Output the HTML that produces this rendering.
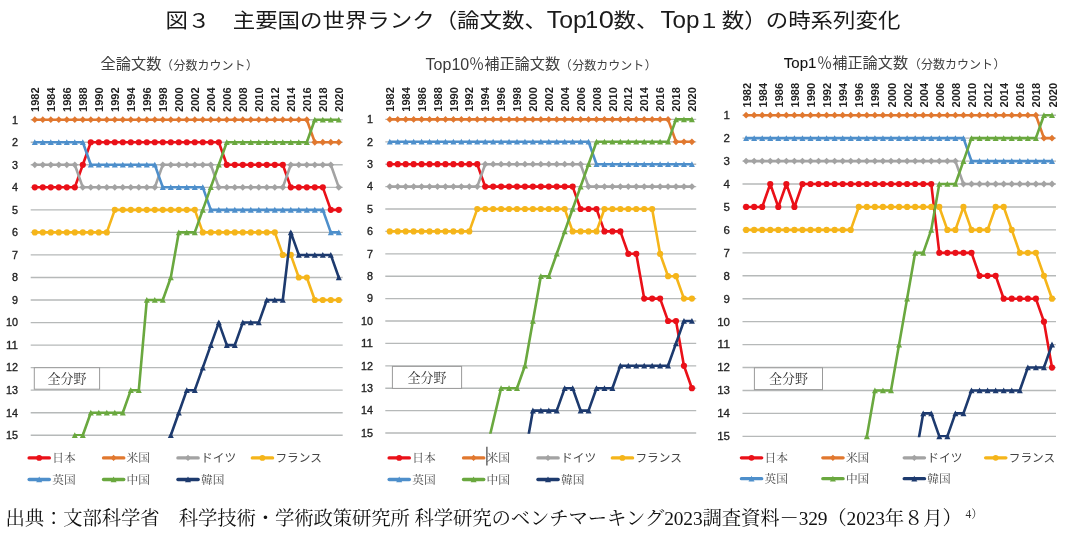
<!DOCTYPE html>
<html lang="ja"><head><meta charset="utf-8"><title>図３ 主要国の世界ランク</title>
<style>html,body{margin:0;padding:0;background:#fff}svg{display:block}</style></head>
<body>
<svg width="1074" height="534" viewBox="0 0 1074 534">
<rect width="1074" height="534" fill="#fff"/>
<text x="165.4" y="28" font-family="Liberation Sans, Noto Sans CJK JP, sans-serif" font-size="22.45" fill="#1a1a1a" transform="translate(0,28.3) scale(1,0.91) translate(0,-28)">図３　主要国の世界ランク（論文数、</text>
<text x="546.8" y="28" font-family="Liberation Sans, Noto Sans CJK JP, sans-serif" font-size="23.2" fill="#1a1a1a" textLength="40" lengthAdjust="spacingAndGlyphs">Top</text>
<text x="591.8" y="28" font-family="Liberation Sans, Noto Sans CJK JP, sans-serif" font-size="23.2" fill="#1a1a1a" text-anchor="middle">1</text>
<text x="598.8" y="28" font-family="Liberation Sans, Noto Sans CJK JP, sans-serif" font-size="23.2" fill="#1a1a1a" textLength="15.2" lengthAdjust="spacingAndGlyphs">0</text>
<text x="613.6" y="28" font-family="Liberation Sans, Noto Sans CJK JP, sans-serif" font-size="22.45" fill="#1a1a1a" transform="translate(0,28.3) scale(1,0.91) translate(0,-28)">数、</text>
<text x="660.4" y="28" font-family="Liberation Sans, Noto Sans CJK JP, sans-serif" font-size="23.2" fill="#1a1a1a" textLength="39" lengthAdjust="spacingAndGlyphs">Top</text>
<text x="709" y="28" font-family="Liberation Sans, Noto Sans CJK JP, sans-serif" font-size="22.45" fill="#1a1a1a" transform="translate(0,28.3) scale(1,0.91) translate(0,-28)" text-anchor="middle">１</text>
<text x="721.8" y="28" font-family="Liberation Sans, Noto Sans CJK JP, sans-serif" font-size="22.45" fill="#1a1a1a" transform="translate(0,28.3) scale(1,0.91) translate(0,-28)">数）</text>
<text x="765.7" y="28" font-family="Liberation Sans, Noto Sans CJK JP, sans-serif" font-size="22.45" fill="#1a1a1a" transform="translate(0,28.3) scale(1,0.91) translate(0,-28)">の時系列変化</text>
<line x1="30.7" x2="342.7" y1="119.70" y2="119.70" stroke="#b6b9b9" stroke-width="1.35"/>
<text x="18" y="123.5" text-anchor="end" font-family="Liberation Sans, sans-serif" font-size="11.8" fill="#222" stroke="#222" stroke-width="0.35" textLength="6.0" lengthAdjust="spacingAndGlyphs">1</text>
<line x1="30.7" x2="342.7" y1="142.24" y2="142.24" stroke="#b6b9b9" stroke-width="1.35"/>
<text x="18" y="146.0" text-anchor="end" font-family="Liberation Sans, sans-serif" font-size="11.8" fill="#222" stroke="#222" stroke-width="0.35" textLength="6.0" lengthAdjust="spacingAndGlyphs">2</text>
<line x1="30.7" x2="342.7" y1="164.78" y2="164.78" stroke="#b6b9b9" stroke-width="1.35"/>
<text x="18" y="168.6" text-anchor="end" font-family="Liberation Sans, sans-serif" font-size="11.8" fill="#222" stroke="#222" stroke-width="0.35" textLength="6.0" lengthAdjust="spacingAndGlyphs">3</text>
<line x1="30.7" x2="342.7" y1="187.32" y2="187.32" stroke="#b6b9b9" stroke-width="1.35"/>
<text x="18" y="191.1" text-anchor="end" font-family="Liberation Sans, sans-serif" font-size="11.8" fill="#222" stroke="#222" stroke-width="0.35" textLength="6.0" lengthAdjust="spacingAndGlyphs">4</text>
<line x1="30.7" x2="342.7" y1="209.86" y2="209.86" stroke="#b6b9b9" stroke-width="1.35"/>
<text x="18" y="213.7" text-anchor="end" font-family="Liberation Sans, sans-serif" font-size="11.8" fill="#222" stroke="#222" stroke-width="0.35" textLength="6.0" lengthAdjust="spacingAndGlyphs">5</text>
<line x1="30.7" x2="342.7" y1="232.40" y2="232.40" stroke="#b6b9b9" stroke-width="1.35"/>
<text x="18" y="236.2" text-anchor="end" font-family="Liberation Sans, sans-serif" font-size="11.8" fill="#222" stroke="#222" stroke-width="0.35" textLength="6.0" lengthAdjust="spacingAndGlyphs">6</text>
<line x1="30.7" x2="342.7" y1="254.94" y2="254.94" stroke="#b6b9b9" stroke-width="1.35"/>
<text x="18" y="258.7" text-anchor="end" font-family="Liberation Sans, sans-serif" font-size="11.8" fill="#222" stroke="#222" stroke-width="0.35" textLength="6.0" lengthAdjust="spacingAndGlyphs">7</text>
<line x1="30.7" x2="342.7" y1="277.48" y2="277.48" stroke="#b6b9b9" stroke-width="1.35"/>
<text x="18" y="281.3" text-anchor="end" font-family="Liberation Sans, sans-serif" font-size="11.8" fill="#222" stroke="#222" stroke-width="0.35" textLength="6.0" lengthAdjust="spacingAndGlyphs">8</text>
<line x1="30.7" x2="342.7" y1="300.02" y2="300.02" stroke="#b6b9b9" stroke-width="1.35"/>
<text x="18" y="303.8" text-anchor="end" font-family="Liberation Sans, sans-serif" font-size="11.8" fill="#222" stroke="#222" stroke-width="0.35" textLength="6.0" lengthAdjust="spacingAndGlyphs">9</text>
<line x1="30.7" x2="342.7" y1="322.56" y2="322.56" stroke="#b6b9b9" stroke-width="1.35"/>
<text x="18" y="326.4" text-anchor="end" font-family="Liberation Sans, sans-serif" font-size="11.8" fill="#222" stroke="#222" stroke-width="0.35" textLength="12.0" lengthAdjust="spacingAndGlyphs">10</text>
<line x1="30.7" x2="342.7" y1="345.10" y2="345.10" stroke="#b6b9b9" stroke-width="1.35"/>
<text x="18" y="348.9" text-anchor="end" font-family="Liberation Sans, sans-serif" font-size="11.8" fill="#222" stroke="#222" stroke-width="0.35" textLength="12.0" lengthAdjust="spacingAndGlyphs">11</text>
<line x1="30.7" x2="342.7" y1="367.64" y2="367.64" stroke="#b6b9b9" stroke-width="1.35"/>
<text x="18" y="371.4" text-anchor="end" font-family="Liberation Sans, sans-serif" font-size="11.8" fill="#222" stroke="#222" stroke-width="0.35" textLength="12.0" lengthAdjust="spacingAndGlyphs">12</text>
<line x1="30.7" x2="342.7" y1="390.18" y2="390.18" stroke="#b6b9b9" stroke-width="1.35"/>
<text x="18" y="394.0" text-anchor="end" font-family="Liberation Sans, sans-serif" font-size="11.8" fill="#222" stroke="#222" stroke-width="0.35" textLength="12.0" lengthAdjust="spacingAndGlyphs">13</text>
<line x1="30.7" x2="342.7" y1="412.72" y2="412.72" stroke="#b6b9b9" stroke-width="1.35"/>
<text x="18" y="416.5" text-anchor="end" font-family="Liberation Sans, sans-serif" font-size="11.8" fill="#222" stroke="#222" stroke-width="0.35" textLength="12.0" lengthAdjust="spacingAndGlyphs">14</text>
<line x1="30.7" x2="342.7" y1="435.26" y2="435.26" stroke="#b6b9b9" stroke-width="1.35"/>
<text x="18" y="439.1" text-anchor="end" font-family="Liberation Sans, sans-serif" font-size="11.8" fill="#222" stroke="#222" stroke-width="0.35" textLength="12.0" lengthAdjust="spacingAndGlyphs">15</text>
<text transform="translate(38.9,112.0) rotate(-90)" font-family="Liberation Sans, sans-serif" font-weight="bold" font-size="10.7" fill="#222" textLength="24.6" lengthAdjust="spacingAndGlyphs">1982</text>
<text transform="translate(54.9,112.0) rotate(-90)" font-family="Liberation Sans, sans-serif" font-weight="bold" font-size="10.7" fill="#222" textLength="24.6" lengthAdjust="spacingAndGlyphs">1984</text>
<text transform="translate(70.9,112.0) rotate(-90)" font-family="Liberation Sans, sans-serif" font-weight="bold" font-size="10.7" fill="#222" textLength="24.6" lengthAdjust="spacingAndGlyphs">1986</text>
<text transform="translate(86.9,112.0) rotate(-90)" font-family="Liberation Sans, sans-serif" font-weight="bold" font-size="10.7" fill="#222" textLength="24.6" lengthAdjust="spacingAndGlyphs">1988</text>
<text transform="translate(102.9,112.0) rotate(-90)" font-family="Liberation Sans, sans-serif" font-weight="bold" font-size="10.7" fill="#222" textLength="24.6" lengthAdjust="spacingAndGlyphs">1990</text>
<text transform="translate(118.9,112.0) rotate(-90)" font-family="Liberation Sans, sans-serif" font-weight="bold" font-size="10.7" fill="#222" textLength="24.6" lengthAdjust="spacingAndGlyphs">1992</text>
<text transform="translate(134.9,112.0) rotate(-90)" font-family="Liberation Sans, sans-serif" font-weight="bold" font-size="10.7" fill="#222" textLength="24.6" lengthAdjust="spacingAndGlyphs">1994</text>
<text transform="translate(150.9,112.0) rotate(-90)" font-family="Liberation Sans, sans-serif" font-weight="bold" font-size="10.7" fill="#222" textLength="24.6" lengthAdjust="spacingAndGlyphs">1996</text>
<text transform="translate(166.9,112.0) rotate(-90)" font-family="Liberation Sans, sans-serif" font-weight="bold" font-size="10.7" fill="#222" textLength="24.6" lengthAdjust="spacingAndGlyphs">1998</text>
<text transform="translate(182.9,112.0) rotate(-90)" font-family="Liberation Sans, sans-serif" font-weight="bold" font-size="10.7" fill="#222" textLength="24.6" lengthAdjust="spacingAndGlyphs">2000</text>
<text transform="translate(198.9,112.0) rotate(-90)" font-family="Liberation Sans, sans-serif" font-weight="bold" font-size="10.7" fill="#222" textLength="24.6" lengthAdjust="spacingAndGlyphs">2002</text>
<text transform="translate(214.9,112.0) rotate(-90)" font-family="Liberation Sans, sans-serif" font-weight="bold" font-size="10.7" fill="#222" textLength="24.6" lengthAdjust="spacingAndGlyphs">2004</text>
<text transform="translate(230.9,112.0) rotate(-90)" font-family="Liberation Sans, sans-serif" font-weight="bold" font-size="10.7" fill="#222" textLength="24.6" lengthAdjust="spacingAndGlyphs">2006</text>
<text transform="translate(246.9,112.0) rotate(-90)" font-family="Liberation Sans, sans-serif" font-weight="bold" font-size="10.7" fill="#222" textLength="24.6" lengthAdjust="spacingAndGlyphs">2008</text>
<text transform="translate(262.9,112.0) rotate(-90)" font-family="Liberation Sans, sans-serif" font-weight="bold" font-size="10.7" fill="#222" textLength="24.6" lengthAdjust="spacingAndGlyphs">2010</text>
<text transform="translate(278.9,112.0) rotate(-90)" font-family="Liberation Sans, sans-serif" font-weight="bold" font-size="10.7" fill="#222" textLength="24.6" lengthAdjust="spacingAndGlyphs">2012</text>
<text transform="translate(294.9,112.0) rotate(-90)" font-family="Liberation Sans, sans-serif" font-weight="bold" font-size="10.7" fill="#222" textLength="24.6" lengthAdjust="spacingAndGlyphs">2014</text>
<text transform="translate(310.9,112.0) rotate(-90)" font-family="Liberation Sans, sans-serif" font-weight="bold" font-size="10.7" fill="#222" textLength="24.6" lengthAdjust="spacingAndGlyphs">2016</text>
<text transform="translate(326.9,112.0) rotate(-90)" font-family="Liberation Sans, sans-serif" font-weight="bold" font-size="10.7" fill="#222" textLength="24.6" lengthAdjust="spacingAndGlyphs">2018</text>
<text transform="translate(342.9,112.0) rotate(-90)" font-family="Liberation Sans, sans-serif" font-weight="bold" font-size="10.7" fill="#222" textLength="24.6" lengthAdjust="spacingAndGlyphs">2020</text>
<clipPath id="cp0"><rect x="27.7" y="113.7" width="318.0" height="322.4"/></clipPath>
<g>
<path d="M34.80 187.32L42.80 187.32L50.80 187.32L58.80 187.32L66.80 187.32L74.80 187.32L82.80 164.78L90.80 142.24L98.80 142.24L106.80 142.24L114.80 142.24L122.80 142.24L130.80 142.24L138.80 142.24L146.80 142.24L154.80 142.24L162.80 142.24L170.80 142.24L178.80 142.24L186.80 142.24L194.80 142.24L202.80 142.24L210.80 142.24L218.80 142.24L226.80 164.78L234.80 164.78L242.80 164.78L250.80 164.78L258.80 164.78L266.80 164.78L274.80 164.78L282.80 164.78L290.80 187.32L298.80 187.32L306.80 187.32L314.80 187.32L322.80 187.32L330.80 209.86L338.80 209.86" fill="none" stroke="#ea1018" stroke-width="2.6" stroke-linejoin="round" stroke-linecap="round" clip-path="url(#cp0)"/>
<circle cx="34.80" cy="187.32" r="3.10" fill="#ea1018"/>
<circle cx="42.80" cy="187.32" r="3.10" fill="#ea1018"/>
<circle cx="50.80" cy="187.32" r="3.10" fill="#ea1018"/>
<circle cx="58.80" cy="187.32" r="3.10" fill="#ea1018"/>
<circle cx="66.80" cy="187.32" r="3.10" fill="#ea1018"/>
<circle cx="74.80" cy="187.32" r="3.10" fill="#ea1018"/>
<circle cx="82.80" cy="164.78" r="3.10" fill="#ea1018"/>
<circle cx="90.80" cy="142.24" r="3.10" fill="#ea1018"/>
<circle cx="98.80" cy="142.24" r="3.10" fill="#ea1018"/>
<circle cx="106.80" cy="142.24" r="3.10" fill="#ea1018"/>
<circle cx="114.80" cy="142.24" r="3.10" fill="#ea1018"/>
<circle cx="122.80" cy="142.24" r="3.10" fill="#ea1018"/>
<circle cx="130.80" cy="142.24" r="3.10" fill="#ea1018"/>
<circle cx="138.80" cy="142.24" r="3.10" fill="#ea1018"/>
<circle cx="146.80" cy="142.24" r="3.10" fill="#ea1018"/>
<circle cx="154.80" cy="142.24" r="3.10" fill="#ea1018"/>
<circle cx="162.80" cy="142.24" r="3.10" fill="#ea1018"/>
<circle cx="170.80" cy="142.24" r="3.10" fill="#ea1018"/>
<circle cx="178.80" cy="142.24" r="3.10" fill="#ea1018"/>
<circle cx="186.80" cy="142.24" r="3.10" fill="#ea1018"/>
<circle cx="194.80" cy="142.24" r="3.10" fill="#ea1018"/>
<circle cx="202.80" cy="142.24" r="3.10" fill="#ea1018"/>
<circle cx="210.80" cy="142.24" r="3.10" fill="#ea1018"/>
<circle cx="218.80" cy="142.24" r="3.10" fill="#ea1018"/>
<circle cx="226.80" cy="164.78" r="3.10" fill="#ea1018"/>
<circle cx="234.80" cy="164.78" r="3.10" fill="#ea1018"/>
<circle cx="242.80" cy="164.78" r="3.10" fill="#ea1018"/>
<circle cx="250.80" cy="164.78" r="3.10" fill="#ea1018"/>
<circle cx="258.80" cy="164.78" r="3.10" fill="#ea1018"/>
<circle cx="266.80" cy="164.78" r="3.10" fill="#ea1018"/>
<circle cx="274.80" cy="164.78" r="3.10" fill="#ea1018"/>
<circle cx="282.80" cy="164.78" r="3.10" fill="#ea1018"/>
<circle cx="290.80" cy="187.32" r="3.10" fill="#ea1018"/>
<circle cx="298.80" cy="187.32" r="3.10" fill="#ea1018"/>
<circle cx="306.80" cy="187.32" r="3.10" fill="#ea1018"/>
<circle cx="314.80" cy="187.32" r="3.10" fill="#ea1018"/>
<circle cx="322.80" cy="187.32" r="3.10" fill="#ea1018"/>
<circle cx="330.80" cy="209.86" r="3.10" fill="#ea1018"/>
<circle cx="338.80" cy="209.86" r="3.10" fill="#ea1018"/>
<path d="M34.80 119.70L42.80 119.70L50.80 119.70L58.80 119.70L66.80 119.70L74.80 119.70L82.80 119.70L90.80 119.70L98.80 119.70L106.80 119.70L114.80 119.70L122.80 119.70L130.80 119.70L138.80 119.70L146.80 119.70L154.80 119.70L162.80 119.70L170.80 119.70L178.80 119.70L186.80 119.70L194.80 119.70L202.80 119.70L210.80 119.70L218.80 119.70L226.80 119.70L234.80 119.70L242.80 119.70L250.80 119.70L258.80 119.70L266.80 119.70L274.80 119.70L282.80 119.70L290.80 119.70L298.80 119.70L306.80 119.70L314.80 142.24L322.80 142.24L330.80 142.24L338.80 142.24" fill="none" stroke="#e1782f" stroke-width="2.6" stroke-linejoin="round" stroke-linecap="round" clip-path="url(#cp0)"/>
<path d="M31.40 119.70L34.80 116.30L38.20 119.70L34.80 123.10Z" fill="#e1782f"/>
<path d="M39.40 119.70L42.80 116.30L46.20 119.70L42.80 123.10Z" fill="#e1782f"/>
<path d="M47.40 119.70L50.80 116.30L54.20 119.70L50.80 123.10Z" fill="#e1782f"/>
<path d="M55.40 119.70L58.80 116.30L62.20 119.70L58.80 123.10Z" fill="#e1782f"/>
<path d="M63.40 119.70L66.80 116.30L70.20 119.70L66.80 123.10Z" fill="#e1782f"/>
<path d="M71.40 119.70L74.80 116.30L78.20 119.70L74.80 123.10Z" fill="#e1782f"/>
<path d="M79.40 119.70L82.80 116.30L86.20 119.70L82.80 123.10Z" fill="#e1782f"/>
<path d="M87.40 119.70L90.80 116.30L94.20 119.70L90.80 123.10Z" fill="#e1782f"/>
<path d="M95.40 119.70L98.80 116.30L102.20 119.70L98.80 123.10Z" fill="#e1782f"/>
<path d="M103.40 119.70L106.80 116.30L110.20 119.70L106.80 123.10Z" fill="#e1782f"/>
<path d="M111.40 119.70L114.80 116.30L118.20 119.70L114.80 123.10Z" fill="#e1782f"/>
<path d="M119.40 119.70L122.80 116.30L126.20 119.70L122.80 123.10Z" fill="#e1782f"/>
<path d="M127.40 119.70L130.80 116.30L134.20 119.70L130.80 123.10Z" fill="#e1782f"/>
<path d="M135.40 119.70L138.80 116.30L142.20 119.70L138.80 123.10Z" fill="#e1782f"/>
<path d="M143.40 119.70L146.80 116.30L150.20 119.70L146.80 123.10Z" fill="#e1782f"/>
<path d="M151.40 119.70L154.80 116.30L158.20 119.70L154.80 123.10Z" fill="#e1782f"/>
<path d="M159.40 119.70L162.80 116.30L166.20 119.70L162.80 123.10Z" fill="#e1782f"/>
<path d="M167.40 119.70L170.80 116.30L174.20 119.70L170.80 123.10Z" fill="#e1782f"/>
<path d="M175.40 119.70L178.80 116.30L182.20 119.70L178.80 123.10Z" fill="#e1782f"/>
<path d="M183.40 119.70L186.80 116.30L190.20 119.70L186.80 123.10Z" fill="#e1782f"/>
<path d="M191.40 119.70L194.80 116.30L198.20 119.70L194.80 123.10Z" fill="#e1782f"/>
<path d="M199.40 119.70L202.80 116.30L206.20 119.70L202.80 123.10Z" fill="#e1782f"/>
<path d="M207.40 119.70L210.80 116.30L214.20 119.70L210.80 123.10Z" fill="#e1782f"/>
<path d="M215.40 119.70L218.80 116.30L222.20 119.70L218.80 123.10Z" fill="#e1782f"/>
<path d="M223.40 119.70L226.80 116.30L230.20 119.70L226.80 123.10Z" fill="#e1782f"/>
<path d="M231.40 119.70L234.80 116.30L238.20 119.70L234.80 123.10Z" fill="#e1782f"/>
<path d="M239.40 119.70L242.80 116.30L246.20 119.70L242.80 123.10Z" fill="#e1782f"/>
<path d="M247.40 119.70L250.80 116.30L254.20 119.70L250.80 123.10Z" fill="#e1782f"/>
<path d="M255.40 119.70L258.80 116.30L262.20 119.70L258.80 123.10Z" fill="#e1782f"/>
<path d="M263.40 119.70L266.80 116.30L270.20 119.70L266.80 123.10Z" fill="#e1782f"/>
<path d="M271.40 119.70L274.80 116.30L278.20 119.70L274.80 123.10Z" fill="#e1782f"/>
<path d="M279.40 119.70L282.80 116.30L286.20 119.70L282.80 123.10Z" fill="#e1782f"/>
<path d="M287.40 119.70L290.80 116.30L294.20 119.70L290.80 123.10Z" fill="#e1782f"/>
<path d="M295.40 119.70L298.80 116.30L302.20 119.70L298.80 123.10Z" fill="#e1782f"/>
<path d="M303.40 119.70L306.80 116.30L310.20 119.70L306.80 123.10Z" fill="#e1782f"/>
<path d="M311.40 142.24L314.80 138.84L318.20 142.24L314.80 145.64Z" fill="#e1782f"/>
<path d="M319.40 142.24L322.80 138.84L326.20 142.24L322.80 145.64Z" fill="#e1782f"/>
<path d="M327.40 142.24L330.80 138.84L334.20 142.24L330.80 145.64Z" fill="#e1782f"/>
<path d="M335.40 142.24L338.80 138.84L342.20 142.24L338.80 145.64Z" fill="#e1782f"/>
<path d="M34.80 164.78L42.80 164.78L50.80 164.78L58.80 164.78L66.80 164.78L74.80 164.78L82.80 187.32L90.80 187.32L98.80 187.32L106.80 187.32L114.80 187.32L122.80 187.32L130.80 187.32L138.80 187.32L146.80 187.32L154.80 187.32L162.80 164.78L170.80 164.78L178.80 164.78L186.80 164.78L194.80 164.78L202.80 164.78L210.80 164.78L218.80 187.32L226.80 187.32L234.80 187.32L242.80 187.32L250.80 187.32L258.80 187.32L266.80 187.32L274.80 187.32L282.80 187.32L290.80 164.78L298.80 164.78L306.80 164.78L314.80 164.78L322.80 164.78L330.80 164.78L338.80 187.32" fill="none" stroke="#a3a3a3" stroke-width="2.6" stroke-linejoin="round" stroke-linecap="round" clip-path="url(#cp0)"/>
<path d="M31.40 164.78L34.80 161.38L38.20 164.78L34.80 168.18Z" fill="#a3a3a3"/>
<path d="M39.40 164.78L42.80 161.38L46.20 164.78L42.80 168.18Z" fill="#a3a3a3"/>
<path d="M47.40 164.78L50.80 161.38L54.20 164.78L50.80 168.18Z" fill="#a3a3a3"/>
<path d="M55.40 164.78L58.80 161.38L62.20 164.78L58.80 168.18Z" fill="#a3a3a3"/>
<path d="M63.40 164.78L66.80 161.38L70.20 164.78L66.80 168.18Z" fill="#a3a3a3"/>
<path d="M71.40 164.78L74.80 161.38L78.20 164.78L74.80 168.18Z" fill="#a3a3a3"/>
<path d="M79.40 187.32L82.80 183.92L86.20 187.32L82.80 190.72Z" fill="#a3a3a3"/>
<path d="M87.40 187.32L90.80 183.92L94.20 187.32L90.80 190.72Z" fill="#a3a3a3"/>
<path d="M95.40 187.32L98.80 183.92L102.20 187.32L98.80 190.72Z" fill="#a3a3a3"/>
<path d="M103.40 187.32L106.80 183.92L110.20 187.32L106.80 190.72Z" fill="#a3a3a3"/>
<path d="M111.40 187.32L114.80 183.92L118.20 187.32L114.80 190.72Z" fill="#a3a3a3"/>
<path d="M119.40 187.32L122.80 183.92L126.20 187.32L122.80 190.72Z" fill="#a3a3a3"/>
<path d="M127.40 187.32L130.80 183.92L134.20 187.32L130.80 190.72Z" fill="#a3a3a3"/>
<path d="M135.40 187.32L138.80 183.92L142.20 187.32L138.80 190.72Z" fill="#a3a3a3"/>
<path d="M143.40 187.32L146.80 183.92L150.20 187.32L146.80 190.72Z" fill="#a3a3a3"/>
<path d="M151.40 187.32L154.80 183.92L158.20 187.32L154.80 190.72Z" fill="#a3a3a3"/>
<path d="M159.40 164.78L162.80 161.38L166.20 164.78L162.80 168.18Z" fill="#a3a3a3"/>
<path d="M167.40 164.78L170.80 161.38L174.20 164.78L170.80 168.18Z" fill="#a3a3a3"/>
<path d="M175.40 164.78L178.80 161.38L182.20 164.78L178.80 168.18Z" fill="#a3a3a3"/>
<path d="M183.40 164.78L186.80 161.38L190.20 164.78L186.80 168.18Z" fill="#a3a3a3"/>
<path d="M191.40 164.78L194.80 161.38L198.20 164.78L194.80 168.18Z" fill="#a3a3a3"/>
<path d="M199.40 164.78L202.80 161.38L206.20 164.78L202.80 168.18Z" fill="#a3a3a3"/>
<path d="M207.40 164.78L210.80 161.38L214.20 164.78L210.80 168.18Z" fill="#a3a3a3"/>
<path d="M215.40 187.32L218.80 183.92L222.20 187.32L218.80 190.72Z" fill="#a3a3a3"/>
<path d="M223.40 187.32L226.80 183.92L230.20 187.32L226.80 190.72Z" fill="#a3a3a3"/>
<path d="M231.40 187.32L234.80 183.92L238.20 187.32L234.80 190.72Z" fill="#a3a3a3"/>
<path d="M239.40 187.32L242.80 183.92L246.20 187.32L242.80 190.72Z" fill="#a3a3a3"/>
<path d="M247.40 187.32L250.80 183.92L254.20 187.32L250.80 190.72Z" fill="#a3a3a3"/>
<path d="M255.40 187.32L258.80 183.92L262.20 187.32L258.80 190.72Z" fill="#a3a3a3"/>
<path d="M263.40 187.32L266.80 183.92L270.20 187.32L266.80 190.72Z" fill="#a3a3a3"/>
<path d="M271.40 187.32L274.80 183.92L278.20 187.32L274.80 190.72Z" fill="#a3a3a3"/>
<path d="M279.40 187.32L282.80 183.92L286.20 187.32L282.80 190.72Z" fill="#a3a3a3"/>
<path d="M287.40 164.78L290.80 161.38L294.20 164.78L290.80 168.18Z" fill="#a3a3a3"/>
<path d="M295.40 164.78L298.80 161.38L302.20 164.78L298.80 168.18Z" fill="#a3a3a3"/>
<path d="M303.40 164.78L306.80 161.38L310.20 164.78L306.80 168.18Z" fill="#a3a3a3"/>
<path d="M311.40 164.78L314.80 161.38L318.20 164.78L314.80 168.18Z" fill="#a3a3a3"/>
<path d="M319.40 164.78L322.80 161.38L326.20 164.78L322.80 168.18Z" fill="#a3a3a3"/>
<path d="M327.40 164.78L330.80 161.38L334.20 164.78L330.80 168.18Z" fill="#a3a3a3"/>
<path d="M335.40 187.32L338.80 183.92L342.20 187.32L338.80 190.72Z" fill="#a3a3a3"/>
<path d="M34.80 232.40L42.80 232.40L50.80 232.40L58.80 232.40L66.80 232.40L74.80 232.40L82.80 232.40L90.80 232.40L98.80 232.40L106.80 232.40L114.80 209.86L122.80 209.86L130.80 209.86L138.80 209.86L146.80 209.86L154.80 209.86L162.80 209.86L170.80 209.86L178.80 209.86L186.80 209.86L194.80 209.86L202.80 232.40L210.80 232.40L218.80 232.40L226.80 232.40L234.80 232.40L242.80 232.40L250.80 232.40L258.80 232.40L266.80 232.40L274.80 232.40L282.80 254.94L290.80 254.94L298.80 277.48L306.80 277.48L314.80 300.02L322.80 300.02L330.80 300.02L338.80 300.02" fill="none" stroke="#f5b51a" stroke-width="2.6" stroke-linejoin="round" stroke-linecap="round" clip-path="url(#cp0)"/>
<circle cx="34.80" cy="232.40" r="3.10" fill="#f5b51a"/>
<circle cx="42.80" cy="232.40" r="3.10" fill="#f5b51a"/>
<circle cx="50.80" cy="232.40" r="3.10" fill="#f5b51a"/>
<circle cx="58.80" cy="232.40" r="3.10" fill="#f5b51a"/>
<circle cx="66.80" cy="232.40" r="3.10" fill="#f5b51a"/>
<circle cx="74.80" cy="232.40" r="3.10" fill="#f5b51a"/>
<circle cx="82.80" cy="232.40" r="3.10" fill="#f5b51a"/>
<circle cx="90.80" cy="232.40" r="3.10" fill="#f5b51a"/>
<circle cx="98.80" cy="232.40" r="3.10" fill="#f5b51a"/>
<circle cx="106.80" cy="232.40" r="3.10" fill="#f5b51a"/>
<circle cx="114.80" cy="209.86" r="3.10" fill="#f5b51a"/>
<circle cx="122.80" cy="209.86" r="3.10" fill="#f5b51a"/>
<circle cx="130.80" cy="209.86" r="3.10" fill="#f5b51a"/>
<circle cx="138.80" cy="209.86" r="3.10" fill="#f5b51a"/>
<circle cx="146.80" cy="209.86" r="3.10" fill="#f5b51a"/>
<circle cx="154.80" cy="209.86" r="3.10" fill="#f5b51a"/>
<circle cx="162.80" cy="209.86" r="3.10" fill="#f5b51a"/>
<circle cx="170.80" cy="209.86" r="3.10" fill="#f5b51a"/>
<circle cx="178.80" cy="209.86" r="3.10" fill="#f5b51a"/>
<circle cx="186.80" cy="209.86" r="3.10" fill="#f5b51a"/>
<circle cx="194.80" cy="209.86" r="3.10" fill="#f5b51a"/>
<circle cx="202.80" cy="232.40" r="3.10" fill="#f5b51a"/>
<circle cx="210.80" cy="232.40" r="3.10" fill="#f5b51a"/>
<circle cx="218.80" cy="232.40" r="3.10" fill="#f5b51a"/>
<circle cx="226.80" cy="232.40" r="3.10" fill="#f5b51a"/>
<circle cx="234.80" cy="232.40" r="3.10" fill="#f5b51a"/>
<circle cx="242.80" cy="232.40" r="3.10" fill="#f5b51a"/>
<circle cx="250.80" cy="232.40" r="3.10" fill="#f5b51a"/>
<circle cx="258.80" cy="232.40" r="3.10" fill="#f5b51a"/>
<circle cx="266.80" cy="232.40" r="3.10" fill="#f5b51a"/>
<circle cx="274.80" cy="232.40" r="3.10" fill="#f5b51a"/>
<circle cx="282.80" cy="254.94" r="3.10" fill="#f5b51a"/>
<circle cx="290.80" cy="254.94" r="3.10" fill="#f5b51a"/>
<circle cx="298.80" cy="277.48" r="3.10" fill="#f5b51a"/>
<circle cx="306.80" cy="277.48" r="3.10" fill="#f5b51a"/>
<circle cx="314.80" cy="300.02" r="3.10" fill="#f5b51a"/>
<circle cx="322.80" cy="300.02" r="3.10" fill="#f5b51a"/>
<circle cx="330.80" cy="300.02" r="3.10" fill="#f5b51a"/>
<circle cx="338.80" cy="300.02" r="3.10" fill="#f5b51a"/>
<path d="M34.80 142.24L42.80 142.24L50.80 142.24L58.80 142.24L66.80 142.24L74.80 142.24L82.80 142.24L90.80 164.78L98.80 164.78L106.80 164.78L114.80 164.78L122.80 164.78L130.80 164.78L138.80 164.78L146.80 164.78L154.80 164.78L162.80 187.32L170.80 187.32L178.80 187.32L186.80 187.32L194.80 187.32L202.80 187.32L210.80 209.86L218.80 209.86L226.80 209.86L234.80 209.86L242.80 209.86L250.80 209.86L258.80 209.86L266.80 209.86L274.80 209.86L282.80 209.86L290.80 209.86L298.80 209.86L306.80 209.86L314.80 209.86L322.80 209.86L330.80 232.40L338.80 232.40" fill="none" stroke="#4e8fcb" stroke-width="2.6" stroke-linejoin="round" stroke-linecap="round" clip-path="url(#cp0)"/>
<path d="M31.80 145.04L34.80 139.24L37.80 145.04Z" fill="#4e8fcb"/>
<path d="M39.80 145.04L42.80 139.24L45.80 145.04Z" fill="#4e8fcb"/>
<path d="M47.80 145.04L50.80 139.24L53.80 145.04Z" fill="#4e8fcb"/>
<path d="M55.80 145.04L58.80 139.24L61.80 145.04Z" fill="#4e8fcb"/>
<path d="M63.80 145.04L66.80 139.24L69.80 145.04Z" fill="#4e8fcb"/>
<path d="M71.80 145.04L74.80 139.24L77.80 145.04Z" fill="#4e8fcb"/>
<path d="M79.80 145.04L82.80 139.24L85.80 145.04Z" fill="#4e8fcb"/>
<path d="M87.80 167.58L90.80 161.78L93.80 167.58Z" fill="#4e8fcb"/>
<path d="M95.80 167.58L98.80 161.78L101.80 167.58Z" fill="#4e8fcb"/>
<path d="M103.80 167.58L106.80 161.78L109.80 167.58Z" fill="#4e8fcb"/>
<path d="M111.80 167.58L114.80 161.78L117.80 167.58Z" fill="#4e8fcb"/>
<path d="M119.80 167.58L122.80 161.78L125.80 167.58Z" fill="#4e8fcb"/>
<path d="M127.80 167.58L130.80 161.78L133.80 167.58Z" fill="#4e8fcb"/>
<path d="M135.80 167.58L138.80 161.78L141.80 167.58Z" fill="#4e8fcb"/>
<path d="M143.80 167.58L146.80 161.78L149.80 167.58Z" fill="#4e8fcb"/>
<path d="M151.80 167.58L154.80 161.78L157.80 167.58Z" fill="#4e8fcb"/>
<path d="M159.80 190.12L162.80 184.32L165.80 190.12Z" fill="#4e8fcb"/>
<path d="M167.80 190.12L170.80 184.32L173.80 190.12Z" fill="#4e8fcb"/>
<path d="M175.80 190.12L178.80 184.32L181.80 190.12Z" fill="#4e8fcb"/>
<path d="M183.80 190.12L186.80 184.32L189.80 190.12Z" fill="#4e8fcb"/>
<path d="M191.80 190.12L194.80 184.32L197.80 190.12Z" fill="#4e8fcb"/>
<path d="M199.80 190.12L202.80 184.32L205.80 190.12Z" fill="#4e8fcb"/>
<path d="M207.80 212.66L210.80 206.86L213.80 212.66Z" fill="#4e8fcb"/>
<path d="M215.80 212.66L218.80 206.86L221.80 212.66Z" fill="#4e8fcb"/>
<path d="M223.80 212.66L226.80 206.86L229.80 212.66Z" fill="#4e8fcb"/>
<path d="M231.80 212.66L234.80 206.86L237.80 212.66Z" fill="#4e8fcb"/>
<path d="M239.80 212.66L242.80 206.86L245.80 212.66Z" fill="#4e8fcb"/>
<path d="M247.80 212.66L250.80 206.86L253.80 212.66Z" fill="#4e8fcb"/>
<path d="M255.80 212.66L258.80 206.86L261.80 212.66Z" fill="#4e8fcb"/>
<path d="M263.80 212.66L266.80 206.86L269.80 212.66Z" fill="#4e8fcb"/>
<path d="M271.80 212.66L274.80 206.86L277.80 212.66Z" fill="#4e8fcb"/>
<path d="M279.80 212.66L282.80 206.86L285.80 212.66Z" fill="#4e8fcb"/>
<path d="M287.80 212.66L290.80 206.86L293.80 212.66Z" fill="#4e8fcb"/>
<path d="M295.80 212.66L298.80 206.86L301.80 212.66Z" fill="#4e8fcb"/>
<path d="M303.80 212.66L306.80 206.86L309.80 212.66Z" fill="#4e8fcb"/>
<path d="M311.80 212.66L314.80 206.86L317.80 212.66Z" fill="#4e8fcb"/>
<path d="M319.80 212.66L322.80 206.86L325.80 212.66Z" fill="#4e8fcb"/>
<path d="M327.80 235.20L330.80 229.40L333.80 235.20Z" fill="#4e8fcb"/>
<path d="M335.80 235.20L338.80 229.40L341.80 235.20Z" fill="#4e8fcb"/>
<path d="M74.80 435.26L82.80 435.26L90.80 412.72L98.80 412.72L106.80 412.72L114.80 412.72L122.80 412.72L130.80 390.18L138.80 390.18L146.80 300.02L154.80 300.02L162.80 300.02L170.80 277.48L178.80 232.40L186.80 232.40L194.80 232.40L202.80 209.86L210.80 187.32L218.80 164.78L226.80 142.24L234.80 142.24L242.80 142.24L250.80 142.24L258.80 142.24L266.80 142.24L274.80 142.24L282.80 142.24L290.80 142.24L298.80 142.24L306.80 142.24L314.80 119.70L322.80 119.70L330.80 119.70L338.80 119.70" fill="none" stroke="#6aa83f" stroke-width="2.6" stroke-linejoin="round" stroke-linecap="round" clip-path="url(#cp0)"/>
<path d="M71.80 438.06L74.80 432.26L77.80 438.06Z" fill="#6aa83f"/>
<path d="M79.80 438.06L82.80 432.26L85.80 438.06Z" fill="#6aa83f"/>
<path d="M87.80 415.52L90.80 409.72L93.80 415.52Z" fill="#6aa83f"/>
<path d="M95.80 415.52L98.80 409.72L101.80 415.52Z" fill="#6aa83f"/>
<path d="M103.80 415.52L106.80 409.72L109.80 415.52Z" fill="#6aa83f"/>
<path d="M111.80 415.52L114.80 409.72L117.80 415.52Z" fill="#6aa83f"/>
<path d="M119.80 415.52L122.80 409.72L125.80 415.52Z" fill="#6aa83f"/>
<path d="M127.80 392.98L130.80 387.18L133.80 392.98Z" fill="#6aa83f"/>
<path d="M135.80 392.98L138.80 387.18L141.80 392.98Z" fill="#6aa83f"/>
<path d="M143.80 302.82L146.80 297.02L149.80 302.82Z" fill="#6aa83f"/>
<path d="M151.80 302.82L154.80 297.02L157.80 302.82Z" fill="#6aa83f"/>
<path d="M159.80 302.82L162.80 297.02L165.80 302.82Z" fill="#6aa83f"/>
<path d="M167.80 280.28L170.80 274.48L173.80 280.28Z" fill="#6aa83f"/>
<path d="M175.80 235.20L178.80 229.40L181.80 235.20Z" fill="#6aa83f"/>
<path d="M183.80 235.20L186.80 229.40L189.80 235.20Z" fill="#6aa83f"/>
<path d="M191.80 235.20L194.80 229.40L197.80 235.20Z" fill="#6aa83f"/>
<path d="M199.80 212.66L202.80 206.86L205.80 212.66Z" fill="#6aa83f"/>
<path d="M207.80 190.12L210.80 184.32L213.80 190.12Z" fill="#6aa83f"/>
<path d="M215.80 167.58L218.80 161.78L221.80 167.58Z" fill="#6aa83f"/>
<path d="M223.80 145.04L226.80 139.24L229.80 145.04Z" fill="#6aa83f"/>
<path d="M231.80 145.04L234.80 139.24L237.80 145.04Z" fill="#6aa83f"/>
<path d="M239.80 145.04L242.80 139.24L245.80 145.04Z" fill="#6aa83f"/>
<path d="M247.80 145.04L250.80 139.24L253.80 145.04Z" fill="#6aa83f"/>
<path d="M255.80 145.04L258.80 139.24L261.80 145.04Z" fill="#6aa83f"/>
<path d="M263.80 145.04L266.80 139.24L269.80 145.04Z" fill="#6aa83f"/>
<path d="M271.80 145.04L274.80 139.24L277.80 145.04Z" fill="#6aa83f"/>
<path d="M279.80 145.04L282.80 139.24L285.80 145.04Z" fill="#6aa83f"/>
<path d="M287.80 145.04L290.80 139.24L293.80 145.04Z" fill="#6aa83f"/>
<path d="M295.80 145.04L298.80 139.24L301.80 145.04Z" fill="#6aa83f"/>
<path d="M303.80 145.04L306.80 139.24L309.80 145.04Z" fill="#6aa83f"/>
<path d="M311.80 122.50L314.80 116.70L317.80 122.50Z" fill="#6aa83f"/>
<path d="M319.80 122.50L322.80 116.70L325.80 122.50Z" fill="#6aa83f"/>
<path d="M327.80 122.50L330.80 116.70L333.80 122.50Z" fill="#6aa83f"/>
<path d="M335.80 122.50L338.80 116.70L341.80 122.50Z" fill="#6aa83f"/>
<path d="M170.80 435.26L178.80 412.72L186.80 390.18L194.80 390.18L202.80 367.64L210.80 345.10L218.80 322.56L226.80 345.10L234.80 345.10L242.80 322.56L250.80 322.56L258.80 322.56L266.80 300.02L274.80 300.02L282.80 300.02L290.80 232.40L298.80 254.94L306.80 254.94L314.80 254.94L322.80 254.94L330.80 254.94L338.80 277.48" fill="none" stroke="#1d3a6e" stroke-width="2.6" stroke-linejoin="round" stroke-linecap="round" clip-path="url(#cp0)"/>
<path d="M167.80 438.06L170.80 432.26L173.80 438.06Z" fill="#1d3a6e"/>
<path d="M175.80 415.52L178.80 409.72L181.80 415.52Z" fill="#1d3a6e"/>
<path d="M183.80 392.98L186.80 387.18L189.80 392.98Z" fill="#1d3a6e"/>
<path d="M191.80 392.98L194.80 387.18L197.80 392.98Z" fill="#1d3a6e"/>
<path d="M199.80 370.44L202.80 364.64L205.80 370.44Z" fill="#1d3a6e"/>
<path d="M207.80 347.90L210.80 342.10L213.80 347.90Z" fill="#1d3a6e"/>
<path d="M215.80 325.36L218.80 319.56L221.80 325.36Z" fill="#1d3a6e"/>
<path d="M223.80 347.90L226.80 342.10L229.80 347.90Z" fill="#1d3a6e"/>
<path d="M231.80 347.90L234.80 342.10L237.80 347.90Z" fill="#1d3a6e"/>
<path d="M239.80 325.36L242.80 319.56L245.80 325.36Z" fill="#1d3a6e"/>
<path d="M247.80 325.36L250.80 319.56L253.80 325.36Z" fill="#1d3a6e"/>
<path d="M255.80 325.36L258.80 319.56L261.80 325.36Z" fill="#1d3a6e"/>
<path d="M263.80 302.82L266.80 297.02L269.80 302.82Z" fill="#1d3a6e"/>
<path d="M271.80 302.82L274.80 297.02L277.80 302.82Z" fill="#1d3a6e"/>
<path d="M279.80 302.82L282.80 297.02L285.80 302.82Z" fill="#1d3a6e"/>
<path d="M287.80 235.20L290.80 229.40L293.80 235.20Z" fill="#1d3a6e"/>
<path d="M295.80 257.74L298.80 251.94L301.80 257.74Z" fill="#1d3a6e"/>
<path d="M303.80 257.74L306.80 251.94L309.80 257.74Z" fill="#1d3a6e"/>
<path d="M311.80 257.74L314.80 251.94L317.80 257.74Z" fill="#1d3a6e"/>
<path d="M319.80 257.74L322.80 251.94L325.80 257.74Z" fill="#1d3a6e"/>
<path d="M327.80 257.74L330.80 251.94L333.80 257.74Z" fill="#1d3a6e"/>
<path d="M335.80 280.28L338.80 274.48L341.80 280.28Z" fill="#1d3a6e"/>
</g>
<text x="100.6" y="69.3" font-family="Liberation Sans, Noto Sans CJK JP, sans-serif" font-size="15.2" fill="#404040">全論文数</text>
<text x="173.0" y="69.6" font-family="Liberation Sans, Noto Sans CJK JP, sans-serif" font-size="12" fill="#404040" text-anchor="end">（</text>
<text x="173.4" y="69.6" font-family="Liberation Sans, Noto Sans CJK JP, sans-serif" font-size="12" fill="#404040">分数カウント</text>
<text x="245.9" y="69.6" font-family="Liberation Sans, Noto Sans CJK JP, sans-serif" font-size="12" fill="#404040">）</text>
<rect x="34.3" y="367.7" width="65.3" height="21.5" fill="#fff" stroke="#9a9a9a" stroke-width="1"/>
<text x="66.9" y="383.3" text-anchor="middle" font-family="Liberation Serif, Noto Serif CJK SC, serif" font-size="13" fill="#333">全分野</text>
<line x1="29.1" x2="49.4" y1="457.9" y2="457.9" stroke="#ea1018" stroke-width="3.3" stroke-linecap="round"/>
<circle cx="39.20" cy="457.90" r="2.85" fill="#ea1018"/>
<text x="52.2" y="462.2" font-family="Liberation Serif, Noto Serif CJK SC, serif" font-size="11.7" fill="#444">日本</text>
<line x1="103.5" x2="123.8" y1="457.9" y2="457.9" stroke="#e1782f" stroke-width="3.3" stroke-linecap="round"/>
<path d="M110.47 457.90L113.60 454.77L116.73 457.90L113.60 461.03Z" fill="#e1782f"/>
<text x="126.6" y="462.2" font-family="Liberation Serif, Noto Serif CJK SC, serif" font-size="11.7" fill="#444">米国</text>
<line x1="177.9" x2="198.2" y1="457.9" y2="457.9" stroke="#a3a3a3" stroke-width="3.3" stroke-linecap="round"/>
<path d="M184.87 457.90L188.00 454.77L191.13 457.90L188.00 461.03Z" fill="#a3a3a3"/>
<text x="201.0" y="462.2" font-family="Liberation Sans, Noto Sans CJK JP, sans-serif" font-size="11.7" fill="#444">ドイツ</text>
<line x1="252.3" x2="272.6" y1="457.9" y2="457.9" stroke="#f5b51a" stroke-width="3.3" stroke-linecap="round"/>
<circle cx="262.40" cy="457.90" r="2.85" fill="#f5b51a"/>
<text x="275.4" y="462.2" font-family="Liberation Sans, Noto Sans CJK JP, sans-serif" font-size="11.7" fill="#444">フランス</text>
<line x1="29.1" x2="49.4" y1="479.5" y2="479.5" stroke="#4e8fcb" stroke-width="3.3" stroke-linecap="round"/>
<path d="M36.20 482.30L39.20 476.50L42.20 482.30Z" fill="#4e8fcb"/>
<text x="52.2" y="483.8" font-family="Liberation Serif, Noto Serif CJK SC, serif" font-size="11.7" fill="#444">英国</text>
<line x1="103.5" x2="123.8" y1="479.5" y2="479.5" stroke="#6aa83f" stroke-width="3.3" stroke-linecap="round"/>
<path d="M110.60 482.30L113.60 476.50L116.60 482.30Z" fill="#6aa83f"/>
<text x="126.6" y="483.8" font-family="Liberation Serif, Noto Serif CJK SC, serif" font-size="11.7" fill="#444">中国</text>
<line x1="177.9" x2="198.2" y1="479.5" y2="479.5" stroke="#1d3a6e" stroke-width="3.3" stroke-linecap="round"/>
<path d="M185.00 482.30L188.00 476.50L191.00 482.30Z" fill="#1d3a6e"/>
<text x="201.0" y="483.8" font-family="Liberation Serif, Noto Serif CJK SC, serif" font-size="11.7" fill="#444">韓国</text>
<line x1="385.3" x2="696.2" y1="119.40" y2="119.40" stroke="#b6b9b9" stroke-width="1.35"/>
<text x="373" y="123.2" text-anchor="end" font-family="Liberation Sans, sans-serif" font-size="11.8" fill="#222" stroke="#222" stroke-width="0.35" textLength="6.0" lengthAdjust="spacingAndGlyphs">1</text>
<line x1="385.3" x2="696.2" y1="141.80" y2="141.80" stroke="#b6b9b9" stroke-width="1.35"/>
<text x="373" y="145.6" text-anchor="end" font-family="Liberation Sans, sans-serif" font-size="11.8" fill="#222" stroke="#222" stroke-width="0.35" textLength="6.0" lengthAdjust="spacingAndGlyphs">2</text>
<line x1="385.3" x2="696.2" y1="164.20" y2="164.20" stroke="#b6b9b9" stroke-width="1.35"/>
<text x="373" y="168.0" text-anchor="end" font-family="Liberation Sans, sans-serif" font-size="11.8" fill="#222" stroke="#222" stroke-width="0.35" textLength="6.0" lengthAdjust="spacingAndGlyphs">3</text>
<line x1="385.3" x2="696.2" y1="186.60" y2="186.60" stroke="#b6b9b9" stroke-width="1.35"/>
<text x="373" y="190.4" text-anchor="end" font-family="Liberation Sans, sans-serif" font-size="11.8" fill="#222" stroke="#222" stroke-width="0.35" textLength="6.0" lengthAdjust="spacingAndGlyphs">4</text>
<line x1="385.3" x2="696.2" y1="209.00" y2="209.00" stroke="#b6b9b9" stroke-width="1.35"/>
<text x="373" y="212.8" text-anchor="end" font-family="Liberation Sans, sans-serif" font-size="11.8" fill="#222" stroke="#222" stroke-width="0.35" textLength="6.0" lengthAdjust="spacingAndGlyphs">5</text>
<line x1="385.3" x2="696.2" y1="231.40" y2="231.40" stroke="#b6b9b9" stroke-width="1.35"/>
<text x="373" y="235.2" text-anchor="end" font-family="Liberation Sans, sans-serif" font-size="11.8" fill="#222" stroke="#222" stroke-width="0.35" textLength="6.0" lengthAdjust="spacingAndGlyphs">6</text>
<line x1="385.3" x2="696.2" y1="253.80" y2="253.80" stroke="#b6b9b9" stroke-width="1.35"/>
<text x="373" y="257.6" text-anchor="end" font-family="Liberation Sans, sans-serif" font-size="11.8" fill="#222" stroke="#222" stroke-width="0.35" textLength="6.0" lengthAdjust="spacingAndGlyphs">7</text>
<line x1="385.3" x2="696.2" y1="276.20" y2="276.20" stroke="#b6b9b9" stroke-width="1.35"/>
<text x="373" y="280.0" text-anchor="end" font-family="Liberation Sans, sans-serif" font-size="11.8" fill="#222" stroke="#222" stroke-width="0.35" textLength="6.0" lengthAdjust="spacingAndGlyphs">8</text>
<line x1="385.3" x2="696.2" y1="298.60" y2="298.60" stroke="#b6b9b9" stroke-width="1.35"/>
<text x="373" y="302.4" text-anchor="end" font-family="Liberation Sans, sans-serif" font-size="11.8" fill="#222" stroke="#222" stroke-width="0.35" textLength="6.0" lengthAdjust="spacingAndGlyphs">9</text>
<line x1="385.3" x2="696.2" y1="321.00" y2="321.00" stroke="#b6b9b9" stroke-width="1.35"/>
<text x="373" y="324.8" text-anchor="end" font-family="Liberation Sans, sans-serif" font-size="11.8" fill="#222" stroke="#222" stroke-width="0.35" textLength="12.0" lengthAdjust="spacingAndGlyphs">10</text>
<line x1="385.3" x2="696.2" y1="343.40" y2="343.40" stroke="#b6b9b9" stroke-width="1.35"/>
<text x="373" y="347.2" text-anchor="end" font-family="Liberation Sans, sans-serif" font-size="11.8" fill="#222" stroke="#222" stroke-width="0.35" textLength="12.0" lengthAdjust="spacingAndGlyphs">11</text>
<line x1="385.3" x2="696.2" y1="365.80" y2="365.80" stroke="#b6b9b9" stroke-width="1.35"/>
<text x="373" y="369.6" text-anchor="end" font-family="Liberation Sans, sans-serif" font-size="11.8" fill="#222" stroke="#222" stroke-width="0.35" textLength="12.0" lengthAdjust="spacingAndGlyphs">12</text>
<line x1="385.3" x2="696.2" y1="388.20" y2="388.20" stroke="#b6b9b9" stroke-width="1.35"/>
<text x="373" y="392.0" text-anchor="end" font-family="Liberation Sans, sans-serif" font-size="11.8" fill="#222" stroke="#222" stroke-width="0.35" textLength="12.0" lengthAdjust="spacingAndGlyphs">13</text>
<line x1="385.3" x2="696.2" y1="410.60" y2="410.60" stroke="#b6b9b9" stroke-width="1.35"/>
<text x="373" y="414.4" text-anchor="end" font-family="Liberation Sans, sans-serif" font-size="11.8" fill="#222" stroke="#222" stroke-width="0.35" textLength="12.0" lengthAdjust="spacingAndGlyphs">14</text>
<line x1="385.3" x2="696.2" y1="433.00" y2="433.00" stroke="#b6b9b9" stroke-width="1.35"/>
<text x="373" y="436.8" text-anchor="end" font-family="Liberation Sans, sans-serif" font-size="11.8" fill="#222" stroke="#222" stroke-width="0.35" textLength="12.0" lengthAdjust="spacingAndGlyphs">15</text>
<text transform="translate(393.9,111.7) rotate(-90)" font-family="Liberation Sans, sans-serif" font-weight="bold" font-size="10.7" fill="#222" textLength="24.6" lengthAdjust="spacingAndGlyphs">1982</text>
<text transform="translate(409.8,111.7) rotate(-90)" font-family="Liberation Sans, sans-serif" font-weight="bold" font-size="10.7" fill="#222" textLength="24.6" lengthAdjust="spacingAndGlyphs">1984</text>
<text transform="translate(425.7,111.7) rotate(-90)" font-family="Liberation Sans, sans-serif" font-weight="bold" font-size="10.7" fill="#222" textLength="24.6" lengthAdjust="spacingAndGlyphs">1986</text>
<text transform="translate(441.6,111.7) rotate(-90)" font-family="Liberation Sans, sans-serif" font-weight="bold" font-size="10.7" fill="#222" textLength="24.6" lengthAdjust="spacingAndGlyphs">1988</text>
<text transform="translate(457.5,111.7) rotate(-90)" font-family="Liberation Sans, sans-serif" font-weight="bold" font-size="10.7" fill="#222" textLength="24.6" lengthAdjust="spacingAndGlyphs">1990</text>
<text transform="translate(473.4,111.7) rotate(-90)" font-family="Liberation Sans, sans-serif" font-weight="bold" font-size="10.7" fill="#222" textLength="24.6" lengthAdjust="spacingAndGlyphs">1992</text>
<text transform="translate(489.3,111.7) rotate(-90)" font-family="Liberation Sans, sans-serif" font-weight="bold" font-size="10.7" fill="#222" textLength="24.6" lengthAdjust="spacingAndGlyphs">1994</text>
<text transform="translate(505.2,111.7) rotate(-90)" font-family="Liberation Sans, sans-serif" font-weight="bold" font-size="10.7" fill="#222" textLength="24.6" lengthAdjust="spacingAndGlyphs">1996</text>
<text transform="translate(521.1,111.7) rotate(-90)" font-family="Liberation Sans, sans-serif" font-weight="bold" font-size="10.7" fill="#222" textLength="24.6" lengthAdjust="spacingAndGlyphs">1998</text>
<text transform="translate(537.0,111.7) rotate(-90)" font-family="Liberation Sans, sans-serif" font-weight="bold" font-size="10.7" fill="#222" textLength="24.6" lengthAdjust="spacingAndGlyphs">2000</text>
<text transform="translate(552.9,111.7) rotate(-90)" font-family="Liberation Sans, sans-serif" font-weight="bold" font-size="10.7" fill="#222" textLength="24.6" lengthAdjust="spacingAndGlyphs">2002</text>
<text transform="translate(568.8,111.7) rotate(-90)" font-family="Liberation Sans, sans-serif" font-weight="bold" font-size="10.7" fill="#222" textLength="24.6" lengthAdjust="spacingAndGlyphs">2004</text>
<text transform="translate(584.7,111.7) rotate(-90)" font-family="Liberation Sans, sans-serif" font-weight="bold" font-size="10.7" fill="#222" textLength="24.6" lengthAdjust="spacingAndGlyphs">2006</text>
<text transform="translate(600.6,111.7) rotate(-90)" font-family="Liberation Sans, sans-serif" font-weight="bold" font-size="10.7" fill="#222" textLength="24.6" lengthAdjust="spacingAndGlyphs">2008</text>
<text transform="translate(616.5,111.7) rotate(-90)" font-family="Liberation Sans, sans-serif" font-weight="bold" font-size="10.7" fill="#222" textLength="24.6" lengthAdjust="spacingAndGlyphs">2010</text>
<text transform="translate(632.4,111.7) rotate(-90)" font-family="Liberation Sans, sans-serif" font-weight="bold" font-size="10.7" fill="#222" textLength="24.6" lengthAdjust="spacingAndGlyphs">2012</text>
<text transform="translate(648.3,111.7) rotate(-90)" font-family="Liberation Sans, sans-serif" font-weight="bold" font-size="10.7" fill="#222" textLength="24.6" lengthAdjust="spacingAndGlyphs">2014</text>
<text transform="translate(664.2,111.7) rotate(-90)" font-family="Liberation Sans, sans-serif" font-weight="bold" font-size="10.7" fill="#222" textLength="24.6" lengthAdjust="spacingAndGlyphs">2016</text>
<text transform="translate(680.1,111.7) rotate(-90)" font-family="Liberation Sans, sans-serif" font-weight="bold" font-size="10.7" fill="#222" textLength="24.6" lengthAdjust="spacingAndGlyphs">2018</text>
<text transform="translate(696.0,111.7) rotate(-90)" font-family="Liberation Sans, sans-serif" font-weight="bold" font-size="10.7" fill="#222" textLength="24.6" lengthAdjust="spacingAndGlyphs">2020</text>
<clipPath id="cp1"><rect x="382.3" y="113.4" width="316.9" height="320.4"/></clipPath>
<g>
<path d="M389.80 164.20L397.75 164.20L405.70 164.20L413.65 164.20L421.60 164.20L429.55 164.20L437.50 164.20L445.45 164.20L453.40 164.20L461.35 164.20L469.30 164.20L477.25 164.20L485.20 186.60L493.15 186.60L501.10 186.60L509.05 186.60L517.00 186.60L524.95 186.60L532.90 186.60L540.85 186.60L548.80 186.60L556.75 186.60L564.70 186.60L572.65 186.60L580.60 209.00L588.55 209.00L596.50 209.00L604.45 231.40L612.40 231.40L620.35 231.40L628.30 253.80L636.25 253.80L644.20 298.60L652.15 298.60L660.10 298.60L668.05 321.00L676.00 321.00L683.95 365.80L691.90 388.20" fill="none" stroke="#ea1018" stroke-width="2.6" stroke-linejoin="round" stroke-linecap="round" clip-path="url(#cp1)"/>
<circle cx="389.80" cy="164.20" r="3.10" fill="#ea1018"/>
<circle cx="397.75" cy="164.20" r="3.10" fill="#ea1018"/>
<circle cx="405.70" cy="164.20" r="3.10" fill="#ea1018"/>
<circle cx="413.65" cy="164.20" r="3.10" fill="#ea1018"/>
<circle cx="421.60" cy="164.20" r="3.10" fill="#ea1018"/>
<circle cx="429.55" cy="164.20" r="3.10" fill="#ea1018"/>
<circle cx="437.50" cy="164.20" r="3.10" fill="#ea1018"/>
<circle cx="445.45" cy="164.20" r="3.10" fill="#ea1018"/>
<circle cx="453.40" cy="164.20" r="3.10" fill="#ea1018"/>
<circle cx="461.35" cy="164.20" r="3.10" fill="#ea1018"/>
<circle cx="469.30" cy="164.20" r="3.10" fill="#ea1018"/>
<circle cx="477.25" cy="164.20" r="3.10" fill="#ea1018"/>
<circle cx="485.20" cy="186.60" r="3.10" fill="#ea1018"/>
<circle cx="493.15" cy="186.60" r="3.10" fill="#ea1018"/>
<circle cx="501.10" cy="186.60" r="3.10" fill="#ea1018"/>
<circle cx="509.05" cy="186.60" r="3.10" fill="#ea1018"/>
<circle cx="517.00" cy="186.60" r="3.10" fill="#ea1018"/>
<circle cx="524.95" cy="186.60" r="3.10" fill="#ea1018"/>
<circle cx="532.90" cy="186.60" r="3.10" fill="#ea1018"/>
<circle cx="540.85" cy="186.60" r="3.10" fill="#ea1018"/>
<circle cx="548.80" cy="186.60" r="3.10" fill="#ea1018"/>
<circle cx="556.75" cy="186.60" r="3.10" fill="#ea1018"/>
<circle cx="564.70" cy="186.60" r="3.10" fill="#ea1018"/>
<circle cx="572.65" cy="186.60" r="3.10" fill="#ea1018"/>
<circle cx="580.60" cy="209.00" r="3.10" fill="#ea1018"/>
<circle cx="588.55" cy="209.00" r="3.10" fill="#ea1018"/>
<circle cx="596.50" cy="209.00" r="3.10" fill="#ea1018"/>
<circle cx="604.45" cy="231.40" r="3.10" fill="#ea1018"/>
<circle cx="612.40" cy="231.40" r="3.10" fill="#ea1018"/>
<circle cx="620.35" cy="231.40" r="3.10" fill="#ea1018"/>
<circle cx="628.30" cy="253.80" r="3.10" fill="#ea1018"/>
<circle cx="636.25" cy="253.80" r="3.10" fill="#ea1018"/>
<circle cx="644.20" cy="298.60" r="3.10" fill="#ea1018"/>
<circle cx="652.15" cy="298.60" r="3.10" fill="#ea1018"/>
<circle cx="660.10" cy="298.60" r="3.10" fill="#ea1018"/>
<circle cx="668.05" cy="321.00" r="3.10" fill="#ea1018"/>
<circle cx="676.00" cy="321.00" r="3.10" fill="#ea1018"/>
<circle cx="683.95" cy="365.80" r="3.10" fill="#ea1018"/>
<circle cx="691.90" cy="388.20" r="3.10" fill="#ea1018"/>
<path d="M389.80 119.40L397.75 119.40L405.70 119.40L413.65 119.40L421.60 119.40L429.55 119.40L437.50 119.40L445.45 119.40L453.40 119.40L461.35 119.40L469.30 119.40L477.25 119.40L485.20 119.40L493.15 119.40L501.10 119.40L509.05 119.40L517.00 119.40L524.95 119.40L532.90 119.40L540.85 119.40L548.80 119.40L556.75 119.40L564.70 119.40L572.65 119.40L580.60 119.40L588.55 119.40L596.50 119.40L604.45 119.40L612.40 119.40L620.35 119.40L628.30 119.40L636.25 119.40L644.20 119.40L652.15 119.40L660.10 119.40L668.05 119.40L676.00 141.80L683.95 141.80L691.90 141.80" fill="none" stroke="#e1782f" stroke-width="2.6" stroke-linejoin="round" stroke-linecap="round" clip-path="url(#cp1)"/>
<path d="M386.40 119.40L389.80 116.00L393.20 119.40L389.80 122.80Z" fill="#e1782f"/>
<path d="M394.35 119.40L397.75 116.00L401.15 119.40L397.75 122.80Z" fill="#e1782f"/>
<path d="M402.30 119.40L405.70 116.00L409.10 119.40L405.70 122.80Z" fill="#e1782f"/>
<path d="M410.25 119.40L413.65 116.00L417.05 119.40L413.65 122.80Z" fill="#e1782f"/>
<path d="M418.20 119.40L421.60 116.00L425.00 119.40L421.60 122.80Z" fill="#e1782f"/>
<path d="M426.15 119.40L429.55 116.00L432.95 119.40L429.55 122.80Z" fill="#e1782f"/>
<path d="M434.10 119.40L437.50 116.00L440.90 119.40L437.50 122.80Z" fill="#e1782f"/>
<path d="M442.05 119.40L445.45 116.00L448.85 119.40L445.45 122.80Z" fill="#e1782f"/>
<path d="M450.00 119.40L453.40 116.00L456.80 119.40L453.40 122.80Z" fill="#e1782f"/>
<path d="M457.95 119.40L461.35 116.00L464.75 119.40L461.35 122.80Z" fill="#e1782f"/>
<path d="M465.90 119.40L469.30 116.00L472.70 119.40L469.30 122.80Z" fill="#e1782f"/>
<path d="M473.85 119.40L477.25 116.00L480.65 119.40L477.25 122.80Z" fill="#e1782f"/>
<path d="M481.80 119.40L485.20 116.00L488.60 119.40L485.20 122.80Z" fill="#e1782f"/>
<path d="M489.75 119.40L493.15 116.00L496.55 119.40L493.15 122.80Z" fill="#e1782f"/>
<path d="M497.70 119.40L501.10 116.00L504.50 119.40L501.10 122.80Z" fill="#e1782f"/>
<path d="M505.65 119.40L509.05 116.00L512.45 119.40L509.05 122.80Z" fill="#e1782f"/>
<path d="M513.60 119.40L517.00 116.00L520.40 119.40L517.00 122.80Z" fill="#e1782f"/>
<path d="M521.55 119.40L524.95 116.00L528.35 119.40L524.95 122.80Z" fill="#e1782f"/>
<path d="M529.50 119.40L532.90 116.00L536.30 119.40L532.90 122.80Z" fill="#e1782f"/>
<path d="M537.45 119.40L540.85 116.00L544.25 119.40L540.85 122.80Z" fill="#e1782f"/>
<path d="M545.40 119.40L548.80 116.00L552.20 119.40L548.80 122.80Z" fill="#e1782f"/>
<path d="M553.35 119.40L556.75 116.00L560.15 119.40L556.75 122.80Z" fill="#e1782f"/>
<path d="M561.30 119.40L564.70 116.00L568.10 119.40L564.70 122.80Z" fill="#e1782f"/>
<path d="M569.25 119.40L572.65 116.00L576.05 119.40L572.65 122.80Z" fill="#e1782f"/>
<path d="M577.20 119.40L580.60 116.00L584.00 119.40L580.60 122.80Z" fill="#e1782f"/>
<path d="M585.15 119.40L588.55 116.00L591.95 119.40L588.55 122.80Z" fill="#e1782f"/>
<path d="M593.10 119.40L596.50 116.00L599.90 119.40L596.50 122.80Z" fill="#e1782f"/>
<path d="M601.05 119.40L604.45 116.00L607.85 119.40L604.45 122.80Z" fill="#e1782f"/>
<path d="M609.00 119.40L612.40 116.00L615.80 119.40L612.40 122.80Z" fill="#e1782f"/>
<path d="M616.95 119.40L620.35 116.00L623.75 119.40L620.35 122.80Z" fill="#e1782f"/>
<path d="M624.90 119.40L628.30 116.00L631.70 119.40L628.30 122.80Z" fill="#e1782f"/>
<path d="M632.85 119.40L636.25 116.00L639.65 119.40L636.25 122.80Z" fill="#e1782f"/>
<path d="M640.80 119.40L644.20 116.00L647.60 119.40L644.20 122.80Z" fill="#e1782f"/>
<path d="M648.75 119.40L652.15 116.00L655.55 119.40L652.15 122.80Z" fill="#e1782f"/>
<path d="M656.70 119.40L660.10 116.00L663.50 119.40L660.10 122.80Z" fill="#e1782f"/>
<path d="M664.65 119.40L668.05 116.00L671.45 119.40L668.05 122.80Z" fill="#e1782f"/>
<path d="M672.60 141.80L676.00 138.40L679.40 141.80L676.00 145.20Z" fill="#e1782f"/>
<path d="M680.55 141.80L683.95 138.40L687.35 141.80L683.95 145.20Z" fill="#e1782f"/>
<path d="M688.50 141.80L691.90 138.40L695.30 141.80L691.90 145.20Z" fill="#e1782f"/>
<path d="M389.80 186.60L397.75 186.60L405.70 186.60L413.65 186.60L421.60 186.60L429.55 186.60L437.50 186.60L445.45 186.60L453.40 186.60L461.35 186.60L469.30 186.60L477.25 186.60L485.20 164.20L493.15 164.20L501.10 164.20L509.05 164.20L517.00 164.20L524.95 164.20L532.90 164.20L540.85 164.20L548.80 164.20L556.75 164.20L564.70 164.20L572.65 164.20L580.60 164.20L588.55 186.60L596.50 186.60L604.45 186.60L612.40 186.60L620.35 186.60L628.30 186.60L636.25 186.60L644.20 186.60L652.15 186.60L660.10 186.60L668.05 186.60L676.00 186.60L683.95 186.60L691.90 186.60" fill="none" stroke="#a3a3a3" stroke-width="2.6" stroke-linejoin="round" stroke-linecap="round" clip-path="url(#cp1)"/>
<path d="M386.40 186.60L389.80 183.20L393.20 186.60L389.80 190.00Z" fill="#a3a3a3"/>
<path d="M394.35 186.60L397.75 183.20L401.15 186.60L397.75 190.00Z" fill="#a3a3a3"/>
<path d="M402.30 186.60L405.70 183.20L409.10 186.60L405.70 190.00Z" fill="#a3a3a3"/>
<path d="M410.25 186.60L413.65 183.20L417.05 186.60L413.65 190.00Z" fill="#a3a3a3"/>
<path d="M418.20 186.60L421.60 183.20L425.00 186.60L421.60 190.00Z" fill="#a3a3a3"/>
<path d="M426.15 186.60L429.55 183.20L432.95 186.60L429.55 190.00Z" fill="#a3a3a3"/>
<path d="M434.10 186.60L437.50 183.20L440.90 186.60L437.50 190.00Z" fill="#a3a3a3"/>
<path d="M442.05 186.60L445.45 183.20L448.85 186.60L445.45 190.00Z" fill="#a3a3a3"/>
<path d="M450.00 186.60L453.40 183.20L456.80 186.60L453.40 190.00Z" fill="#a3a3a3"/>
<path d="M457.95 186.60L461.35 183.20L464.75 186.60L461.35 190.00Z" fill="#a3a3a3"/>
<path d="M465.90 186.60L469.30 183.20L472.70 186.60L469.30 190.00Z" fill="#a3a3a3"/>
<path d="M473.85 186.60L477.25 183.20L480.65 186.60L477.25 190.00Z" fill="#a3a3a3"/>
<path d="M481.80 164.20L485.20 160.80L488.60 164.20L485.20 167.60Z" fill="#a3a3a3"/>
<path d="M489.75 164.20L493.15 160.80L496.55 164.20L493.15 167.60Z" fill="#a3a3a3"/>
<path d="M497.70 164.20L501.10 160.80L504.50 164.20L501.10 167.60Z" fill="#a3a3a3"/>
<path d="M505.65 164.20L509.05 160.80L512.45 164.20L509.05 167.60Z" fill="#a3a3a3"/>
<path d="M513.60 164.20L517.00 160.80L520.40 164.20L517.00 167.60Z" fill="#a3a3a3"/>
<path d="M521.55 164.20L524.95 160.80L528.35 164.20L524.95 167.60Z" fill="#a3a3a3"/>
<path d="M529.50 164.20L532.90 160.80L536.30 164.20L532.90 167.60Z" fill="#a3a3a3"/>
<path d="M537.45 164.20L540.85 160.80L544.25 164.20L540.85 167.60Z" fill="#a3a3a3"/>
<path d="M545.40 164.20L548.80 160.80L552.20 164.20L548.80 167.60Z" fill="#a3a3a3"/>
<path d="M553.35 164.20L556.75 160.80L560.15 164.20L556.75 167.60Z" fill="#a3a3a3"/>
<path d="M561.30 164.20L564.70 160.80L568.10 164.20L564.70 167.60Z" fill="#a3a3a3"/>
<path d="M569.25 164.20L572.65 160.80L576.05 164.20L572.65 167.60Z" fill="#a3a3a3"/>
<path d="M577.20 164.20L580.60 160.80L584.00 164.20L580.60 167.60Z" fill="#a3a3a3"/>
<path d="M585.15 186.60L588.55 183.20L591.95 186.60L588.55 190.00Z" fill="#a3a3a3"/>
<path d="M593.10 186.60L596.50 183.20L599.90 186.60L596.50 190.00Z" fill="#a3a3a3"/>
<path d="M601.05 186.60L604.45 183.20L607.85 186.60L604.45 190.00Z" fill="#a3a3a3"/>
<path d="M609.00 186.60L612.40 183.20L615.80 186.60L612.40 190.00Z" fill="#a3a3a3"/>
<path d="M616.95 186.60L620.35 183.20L623.75 186.60L620.35 190.00Z" fill="#a3a3a3"/>
<path d="M624.90 186.60L628.30 183.20L631.70 186.60L628.30 190.00Z" fill="#a3a3a3"/>
<path d="M632.85 186.60L636.25 183.20L639.65 186.60L636.25 190.00Z" fill="#a3a3a3"/>
<path d="M640.80 186.60L644.20 183.20L647.60 186.60L644.20 190.00Z" fill="#a3a3a3"/>
<path d="M648.75 186.60L652.15 183.20L655.55 186.60L652.15 190.00Z" fill="#a3a3a3"/>
<path d="M656.70 186.60L660.10 183.20L663.50 186.60L660.10 190.00Z" fill="#a3a3a3"/>
<path d="M664.65 186.60L668.05 183.20L671.45 186.60L668.05 190.00Z" fill="#a3a3a3"/>
<path d="M672.60 186.60L676.00 183.20L679.40 186.60L676.00 190.00Z" fill="#a3a3a3"/>
<path d="M680.55 186.60L683.95 183.20L687.35 186.60L683.95 190.00Z" fill="#a3a3a3"/>
<path d="M688.50 186.60L691.90 183.20L695.30 186.60L691.90 190.00Z" fill="#a3a3a3"/>
<path d="M389.80 231.40L397.75 231.40L405.70 231.40L413.65 231.40L421.60 231.40L429.55 231.40L437.50 231.40L445.45 231.40L453.40 231.40L461.35 231.40L469.30 231.40L477.25 209.00L485.20 209.00L493.15 209.00L501.10 209.00L509.05 209.00L517.00 209.00L524.95 209.00L532.90 209.00L540.85 209.00L548.80 209.00L556.75 209.00L564.70 209.00L572.65 231.40L580.60 231.40L588.55 231.40L596.50 231.40L604.45 209.00L612.40 209.00L620.35 209.00L628.30 209.00L636.25 209.00L644.20 209.00L652.15 209.00L660.10 253.80L668.05 276.20L676.00 276.20L683.95 298.60L691.90 298.60" fill="none" stroke="#f5b51a" stroke-width="2.6" stroke-linejoin="round" stroke-linecap="round" clip-path="url(#cp1)"/>
<circle cx="389.80" cy="231.40" r="3.10" fill="#f5b51a"/>
<circle cx="397.75" cy="231.40" r="3.10" fill="#f5b51a"/>
<circle cx="405.70" cy="231.40" r="3.10" fill="#f5b51a"/>
<circle cx="413.65" cy="231.40" r="3.10" fill="#f5b51a"/>
<circle cx="421.60" cy="231.40" r="3.10" fill="#f5b51a"/>
<circle cx="429.55" cy="231.40" r="3.10" fill="#f5b51a"/>
<circle cx="437.50" cy="231.40" r="3.10" fill="#f5b51a"/>
<circle cx="445.45" cy="231.40" r="3.10" fill="#f5b51a"/>
<circle cx="453.40" cy="231.40" r="3.10" fill="#f5b51a"/>
<circle cx="461.35" cy="231.40" r="3.10" fill="#f5b51a"/>
<circle cx="469.30" cy="231.40" r="3.10" fill="#f5b51a"/>
<circle cx="477.25" cy="209.00" r="3.10" fill="#f5b51a"/>
<circle cx="485.20" cy="209.00" r="3.10" fill="#f5b51a"/>
<circle cx="493.15" cy="209.00" r="3.10" fill="#f5b51a"/>
<circle cx="501.10" cy="209.00" r="3.10" fill="#f5b51a"/>
<circle cx="509.05" cy="209.00" r="3.10" fill="#f5b51a"/>
<circle cx="517.00" cy="209.00" r="3.10" fill="#f5b51a"/>
<circle cx="524.95" cy="209.00" r="3.10" fill="#f5b51a"/>
<circle cx="532.90" cy="209.00" r="3.10" fill="#f5b51a"/>
<circle cx="540.85" cy="209.00" r="3.10" fill="#f5b51a"/>
<circle cx="548.80" cy="209.00" r="3.10" fill="#f5b51a"/>
<circle cx="556.75" cy="209.00" r="3.10" fill="#f5b51a"/>
<circle cx="564.70" cy="209.00" r="3.10" fill="#f5b51a"/>
<circle cx="572.65" cy="231.40" r="3.10" fill="#f5b51a"/>
<circle cx="580.60" cy="231.40" r="3.10" fill="#f5b51a"/>
<circle cx="588.55" cy="231.40" r="3.10" fill="#f5b51a"/>
<circle cx="596.50" cy="231.40" r="3.10" fill="#f5b51a"/>
<circle cx="604.45" cy="209.00" r="3.10" fill="#f5b51a"/>
<circle cx="612.40" cy="209.00" r="3.10" fill="#f5b51a"/>
<circle cx="620.35" cy="209.00" r="3.10" fill="#f5b51a"/>
<circle cx="628.30" cy="209.00" r="3.10" fill="#f5b51a"/>
<circle cx="636.25" cy="209.00" r="3.10" fill="#f5b51a"/>
<circle cx="644.20" cy="209.00" r="3.10" fill="#f5b51a"/>
<circle cx="652.15" cy="209.00" r="3.10" fill="#f5b51a"/>
<circle cx="660.10" cy="253.80" r="3.10" fill="#f5b51a"/>
<circle cx="668.05" cy="276.20" r="3.10" fill="#f5b51a"/>
<circle cx="676.00" cy="276.20" r="3.10" fill="#f5b51a"/>
<circle cx="683.95" cy="298.60" r="3.10" fill="#f5b51a"/>
<circle cx="691.90" cy="298.60" r="3.10" fill="#f5b51a"/>
<path d="M389.80 141.80L397.75 141.80L405.70 141.80L413.65 141.80L421.60 141.80L429.55 141.80L437.50 141.80L445.45 141.80L453.40 141.80L461.35 141.80L469.30 141.80L477.25 141.80L485.20 141.80L493.15 141.80L501.10 141.80L509.05 141.80L517.00 141.80L524.95 141.80L532.90 141.80L540.85 141.80L548.80 141.80L556.75 141.80L564.70 141.80L572.65 141.80L580.60 141.80L588.55 141.80L596.50 164.20L604.45 164.20L612.40 164.20L620.35 164.20L628.30 164.20L636.25 164.20L644.20 164.20L652.15 164.20L660.10 164.20L668.05 164.20L676.00 164.20L683.95 164.20L691.90 164.20" fill="none" stroke="#4e8fcb" stroke-width="2.6" stroke-linejoin="round" stroke-linecap="round" clip-path="url(#cp1)"/>
<path d="M386.80 144.60L389.80 138.80L392.80 144.60Z" fill="#4e8fcb"/>
<path d="M394.75 144.60L397.75 138.80L400.75 144.60Z" fill="#4e8fcb"/>
<path d="M402.70 144.60L405.70 138.80L408.70 144.60Z" fill="#4e8fcb"/>
<path d="M410.65 144.60L413.65 138.80L416.65 144.60Z" fill="#4e8fcb"/>
<path d="M418.60 144.60L421.60 138.80L424.60 144.60Z" fill="#4e8fcb"/>
<path d="M426.55 144.60L429.55 138.80L432.55 144.60Z" fill="#4e8fcb"/>
<path d="M434.50 144.60L437.50 138.80L440.50 144.60Z" fill="#4e8fcb"/>
<path d="M442.45 144.60L445.45 138.80L448.45 144.60Z" fill="#4e8fcb"/>
<path d="M450.40 144.60L453.40 138.80L456.40 144.60Z" fill="#4e8fcb"/>
<path d="M458.35 144.60L461.35 138.80L464.35 144.60Z" fill="#4e8fcb"/>
<path d="M466.30 144.60L469.30 138.80L472.30 144.60Z" fill="#4e8fcb"/>
<path d="M474.25 144.60L477.25 138.80L480.25 144.60Z" fill="#4e8fcb"/>
<path d="M482.20 144.60L485.20 138.80L488.20 144.60Z" fill="#4e8fcb"/>
<path d="M490.15 144.60L493.15 138.80L496.15 144.60Z" fill="#4e8fcb"/>
<path d="M498.10 144.60L501.10 138.80L504.10 144.60Z" fill="#4e8fcb"/>
<path d="M506.05 144.60L509.05 138.80L512.05 144.60Z" fill="#4e8fcb"/>
<path d="M514.00 144.60L517.00 138.80L520.00 144.60Z" fill="#4e8fcb"/>
<path d="M521.95 144.60L524.95 138.80L527.95 144.60Z" fill="#4e8fcb"/>
<path d="M529.90 144.60L532.90 138.80L535.90 144.60Z" fill="#4e8fcb"/>
<path d="M537.85 144.60L540.85 138.80L543.85 144.60Z" fill="#4e8fcb"/>
<path d="M545.80 144.60L548.80 138.80L551.80 144.60Z" fill="#4e8fcb"/>
<path d="M553.75 144.60L556.75 138.80L559.75 144.60Z" fill="#4e8fcb"/>
<path d="M561.70 144.60L564.70 138.80L567.70 144.60Z" fill="#4e8fcb"/>
<path d="M569.65 144.60L572.65 138.80L575.65 144.60Z" fill="#4e8fcb"/>
<path d="M577.60 144.60L580.60 138.80L583.60 144.60Z" fill="#4e8fcb"/>
<path d="M585.55 144.60L588.55 138.80L591.55 144.60Z" fill="#4e8fcb"/>
<path d="M593.50 167.00L596.50 161.20L599.50 167.00Z" fill="#4e8fcb"/>
<path d="M601.45 167.00L604.45 161.20L607.45 167.00Z" fill="#4e8fcb"/>
<path d="M609.40 167.00L612.40 161.20L615.40 167.00Z" fill="#4e8fcb"/>
<path d="M617.35 167.00L620.35 161.20L623.35 167.00Z" fill="#4e8fcb"/>
<path d="M625.30 167.00L628.30 161.20L631.30 167.00Z" fill="#4e8fcb"/>
<path d="M633.25 167.00L636.25 161.20L639.25 167.00Z" fill="#4e8fcb"/>
<path d="M641.20 167.00L644.20 161.20L647.20 167.00Z" fill="#4e8fcb"/>
<path d="M649.15 167.00L652.15 161.20L655.15 167.00Z" fill="#4e8fcb"/>
<path d="M657.10 167.00L660.10 161.20L663.10 167.00Z" fill="#4e8fcb"/>
<path d="M665.05 167.00L668.05 161.20L671.05 167.00Z" fill="#4e8fcb"/>
<path d="M673.00 167.00L676.00 161.20L679.00 167.00Z" fill="#4e8fcb"/>
<path d="M680.95 167.00L683.95 161.20L686.95 167.00Z" fill="#4e8fcb"/>
<path d="M688.90 167.00L691.90 161.20L694.90 167.00Z" fill="#4e8fcb"/>
<path d="M485.20 455.40L501.10 388.20L509.05 388.20L517.00 388.20L524.95 365.80L532.90 321.00L540.85 276.20L548.80 276.20L556.75 253.80L564.70 231.40L572.65 209.00L580.60 186.60L588.55 164.20L596.50 141.80L604.45 141.80L612.40 141.80L620.35 141.80L628.30 141.80L636.25 141.80L644.20 141.80L652.15 141.80L660.10 141.80L668.05 141.80L676.00 119.40L683.95 119.40L691.90 119.40" fill="none" stroke="#6aa83f" stroke-width="2.6" stroke-linejoin="round" stroke-linecap="round" clip-path="url(#cp1)"/>
<path d="M498.10 391.00L501.10 385.20L504.10 391.00Z" fill="#6aa83f"/>
<path d="M506.05 391.00L509.05 385.20L512.05 391.00Z" fill="#6aa83f"/>
<path d="M514.00 391.00L517.00 385.20L520.00 391.00Z" fill="#6aa83f"/>
<path d="M521.95 368.60L524.95 362.80L527.95 368.60Z" fill="#6aa83f"/>
<path d="M529.90 323.80L532.90 318.00L535.90 323.80Z" fill="#6aa83f"/>
<path d="M537.85 279.00L540.85 273.20L543.85 279.00Z" fill="#6aa83f"/>
<path d="M545.80 279.00L548.80 273.20L551.80 279.00Z" fill="#6aa83f"/>
<path d="M553.75 256.60L556.75 250.80L559.75 256.60Z" fill="#6aa83f"/>
<path d="M561.70 234.20L564.70 228.40L567.70 234.20Z" fill="#6aa83f"/>
<path d="M569.65 211.80L572.65 206.00L575.65 211.80Z" fill="#6aa83f"/>
<path d="M577.60 189.40L580.60 183.60L583.60 189.40Z" fill="#6aa83f"/>
<path d="M585.55 167.00L588.55 161.20L591.55 167.00Z" fill="#6aa83f"/>
<path d="M593.50 144.60L596.50 138.80L599.50 144.60Z" fill="#6aa83f"/>
<path d="M601.45 144.60L604.45 138.80L607.45 144.60Z" fill="#6aa83f"/>
<path d="M609.40 144.60L612.40 138.80L615.40 144.60Z" fill="#6aa83f"/>
<path d="M617.35 144.60L620.35 138.80L623.35 144.60Z" fill="#6aa83f"/>
<path d="M625.30 144.60L628.30 138.80L631.30 144.60Z" fill="#6aa83f"/>
<path d="M633.25 144.60L636.25 138.80L639.25 144.60Z" fill="#6aa83f"/>
<path d="M641.20 144.60L644.20 138.80L647.20 144.60Z" fill="#6aa83f"/>
<path d="M649.15 144.60L652.15 138.80L655.15 144.60Z" fill="#6aa83f"/>
<path d="M657.10 144.60L660.10 138.80L663.10 144.60Z" fill="#6aa83f"/>
<path d="M665.05 144.60L668.05 138.80L671.05 144.60Z" fill="#6aa83f"/>
<path d="M673.00 122.20L676.00 116.40L679.00 122.20Z" fill="#6aa83f"/>
<path d="M680.95 122.20L683.95 116.40L686.95 122.20Z" fill="#6aa83f"/>
<path d="M688.90 122.20L691.90 116.40L694.90 122.20Z" fill="#6aa83f"/>
<path d="M524.95 455.40L532.90 410.60L540.85 410.60L548.80 410.60L556.75 410.60L564.70 388.20L572.65 388.20L580.60 410.60L588.55 410.60L596.50 388.20L604.45 388.20L612.40 388.20L620.35 365.80L628.30 365.80L636.25 365.80L644.20 365.80L652.15 365.80L660.10 365.80L668.05 365.80L676.00 343.40L683.95 321.00L691.90 321.00" fill="none" stroke="#1d3a6e" stroke-width="2.6" stroke-linejoin="round" stroke-linecap="round" clip-path="url(#cp1)"/>
<path d="M529.90 413.40L532.90 407.60L535.90 413.40Z" fill="#1d3a6e"/>
<path d="M537.85 413.40L540.85 407.60L543.85 413.40Z" fill="#1d3a6e"/>
<path d="M545.80 413.40L548.80 407.60L551.80 413.40Z" fill="#1d3a6e"/>
<path d="M553.75 413.40L556.75 407.60L559.75 413.40Z" fill="#1d3a6e"/>
<path d="M561.70 391.00L564.70 385.20L567.70 391.00Z" fill="#1d3a6e"/>
<path d="M569.65 391.00L572.65 385.20L575.65 391.00Z" fill="#1d3a6e"/>
<path d="M577.60 413.40L580.60 407.60L583.60 413.40Z" fill="#1d3a6e"/>
<path d="M585.55 413.40L588.55 407.60L591.55 413.40Z" fill="#1d3a6e"/>
<path d="M593.50 391.00L596.50 385.20L599.50 391.00Z" fill="#1d3a6e"/>
<path d="M601.45 391.00L604.45 385.20L607.45 391.00Z" fill="#1d3a6e"/>
<path d="M609.40 391.00L612.40 385.20L615.40 391.00Z" fill="#1d3a6e"/>
<path d="M617.35 368.60L620.35 362.80L623.35 368.60Z" fill="#1d3a6e"/>
<path d="M625.30 368.60L628.30 362.80L631.30 368.60Z" fill="#1d3a6e"/>
<path d="M633.25 368.60L636.25 362.80L639.25 368.60Z" fill="#1d3a6e"/>
<path d="M641.20 368.60L644.20 362.80L647.20 368.60Z" fill="#1d3a6e"/>
<path d="M649.15 368.60L652.15 362.80L655.15 368.60Z" fill="#1d3a6e"/>
<path d="M657.10 368.60L660.10 362.80L663.10 368.60Z" fill="#1d3a6e"/>
<path d="M665.05 368.60L668.05 362.80L671.05 368.60Z" fill="#1d3a6e"/>
<path d="M673.00 346.20L676.00 340.40L679.00 346.20Z" fill="#1d3a6e"/>
<path d="M680.95 323.80L683.95 318.00L686.95 323.80Z" fill="#1d3a6e"/>
<path d="M688.90 323.80L691.90 318.00L694.90 323.80Z" fill="#1d3a6e"/>
</g>
<text x="425.6" y="70.2" font-family="Liberation Sans, Noto Sans CJK JP, sans-serif" font-size="16" fill="#3a3a3a" textLength="43.6" lengthAdjust="spacingAndGlyphs">Top10</text>
<text x="469" y="69.3" font-family="Liberation Sans, Noto Sans CJK JP, sans-serif" font-size="15.2" fill="#404040">％補正論文数</text>
<text x="571.8" y="69.6" font-family="Liberation Sans, Noto Sans CJK JP, sans-serif" font-size="12" fill="#404040" text-anchor="end">（</text>
<text x="572.2" y="69.6" font-family="Liberation Sans, Noto Sans CJK JP, sans-serif" font-size="12" fill="#404040">分数カウント</text>
<text x="644.7" y="69.6" font-family="Liberation Sans, Noto Sans CJK JP, sans-serif" font-size="12" fill="#404040">）</text>
<rect x="392.4" y="366.4" width="69.2" height="22" fill="#fff" stroke="#9a9a9a" stroke-width="1"/>
<text x="427.0" y="382.0" text-anchor="middle" font-family="Liberation Serif, Noto Serif CJK SC, serif" font-size="13" fill="#333">全分野</text>
<line x1="389.1" x2="409.4" y1="457.9" y2="457.9" stroke="#ea1018" stroke-width="3.3" stroke-linecap="round"/>
<circle cx="399.20" cy="457.90" r="2.85" fill="#ea1018"/>
<text x="412.2" y="462.2" font-family="Liberation Serif, Noto Serif CJK SC, serif" font-size="11.7" fill="#444">日本</text>
<line x1="463.5" x2="483.8" y1="457.9" y2="457.9" stroke="#e1782f" stroke-width="3.3" stroke-linecap="round"/>
<path d="M470.47 457.90L473.60 454.77L476.73 457.90L473.60 461.03Z" fill="#e1782f"/>
<text x="486.6" y="462.2" font-family="Liberation Serif, Noto Serif CJK SC, serif" font-size="11.7" fill="#444">米国</text>
<line x1="537.9" x2="558.2" y1="457.9" y2="457.9" stroke="#a3a3a3" stroke-width="3.3" stroke-linecap="round"/>
<path d="M544.87 457.90L548.00 454.77L551.13 457.90L548.00 461.03Z" fill="#a3a3a3"/>
<text x="561.0" y="462.2" font-family="Liberation Sans, Noto Sans CJK JP, sans-serif" font-size="11.7" fill="#444">ドイツ</text>
<line x1="612.3" x2="632.6" y1="457.9" y2="457.9" stroke="#f5b51a" stroke-width="3.3" stroke-linecap="round"/>
<circle cx="622.40" cy="457.90" r="2.85" fill="#f5b51a"/>
<text x="635.4" y="462.2" font-family="Liberation Sans, Noto Sans CJK JP, sans-serif" font-size="11.7" fill="#444">フランス</text>
<line x1="389.1" x2="409.4" y1="479.5" y2="479.5" stroke="#4e8fcb" stroke-width="3.3" stroke-linecap="round"/>
<path d="M396.20 482.30L399.20 476.50L402.20 482.30Z" fill="#4e8fcb"/>
<text x="412.2" y="483.8" font-family="Liberation Serif, Noto Serif CJK SC, serif" font-size="11.7" fill="#444">英国</text>
<line x1="463.5" x2="483.8" y1="479.5" y2="479.5" stroke="#6aa83f" stroke-width="3.3" stroke-linecap="round"/>
<path d="M470.60 482.30L473.60 476.50L476.60 482.30Z" fill="#6aa83f"/>
<text x="486.6" y="483.8" font-family="Liberation Serif, Noto Serif CJK SC, serif" font-size="11.7" fill="#444">中国</text>
<line x1="537.9" x2="558.2" y1="479.5" y2="479.5" stroke="#1d3a6e" stroke-width="3.3" stroke-linecap="round"/>
<path d="M545.00 482.30L548.00 476.50L551.00 482.30Z" fill="#1d3a6e"/>
<text x="561.0" y="483.8" font-family="Liberation Serif, Noto Serif CJK SC, serif" font-size="11.7" fill="#444">韓国</text>
<line x1="742.5" x2="1056.0" y1="115.20" y2="115.20" stroke="#b6b9b9" stroke-width="1.35"/>
<text x="730" y="119.0" text-anchor="end" font-family="Liberation Sans, sans-serif" font-size="11.8" fill="#222" stroke="#222" stroke-width="0.3" textLength="6.4" lengthAdjust="spacingAndGlyphs">1</text>
<line x1="742.5" x2="1056.0" y1="138.14" y2="138.14" stroke="#b6b9b9" stroke-width="1.35"/>
<text x="730" y="141.9" text-anchor="end" font-family="Liberation Sans, sans-serif" font-size="11.8" fill="#222" stroke="#222" stroke-width="0.3" textLength="6.4" lengthAdjust="spacingAndGlyphs">2</text>
<line x1="742.5" x2="1056.0" y1="161.08" y2="161.08" stroke="#b6b9b9" stroke-width="1.35"/>
<text x="730" y="164.9" text-anchor="end" font-family="Liberation Sans, sans-serif" font-size="11.8" fill="#222" stroke="#222" stroke-width="0.3" textLength="6.4" lengthAdjust="spacingAndGlyphs">3</text>
<line x1="742.5" x2="1056.0" y1="184.02" y2="184.02" stroke="#b6b9b9" stroke-width="1.35"/>
<text x="730" y="187.8" text-anchor="end" font-family="Liberation Sans, sans-serif" font-size="11.8" fill="#222" stroke="#222" stroke-width="0.3" textLength="6.4" lengthAdjust="spacingAndGlyphs">4</text>
<line x1="742.5" x2="1056.0" y1="206.96" y2="206.96" stroke="#b6b9b9" stroke-width="1.35"/>
<text x="730" y="210.8" text-anchor="end" font-family="Liberation Sans, sans-serif" font-size="11.8" fill="#222" stroke="#222" stroke-width="0.3" textLength="6.4" lengthAdjust="spacingAndGlyphs">5</text>
<line x1="742.5" x2="1056.0" y1="229.90" y2="229.90" stroke="#b6b9b9" stroke-width="1.35"/>
<text x="730" y="233.7" text-anchor="end" font-family="Liberation Sans, sans-serif" font-size="11.8" fill="#222" stroke="#222" stroke-width="0.3" textLength="6.4" lengthAdjust="spacingAndGlyphs">6</text>
<line x1="742.5" x2="1056.0" y1="252.84" y2="252.84" stroke="#b6b9b9" stroke-width="1.35"/>
<text x="730" y="256.6" text-anchor="end" font-family="Liberation Sans, sans-serif" font-size="11.8" fill="#222" stroke="#222" stroke-width="0.3" textLength="6.4" lengthAdjust="spacingAndGlyphs">7</text>
<line x1="742.5" x2="1056.0" y1="275.78" y2="275.78" stroke="#b6b9b9" stroke-width="1.35"/>
<text x="730" y="279.6" text-anchor="end" font-family="Liberation Sans, sans-serif" font-size="11.8" fill="#222" stroke="#222" stroke-width="0.3" textLength="6.4" lengthAdjust="spacingAndGlyphs">8</text>
<line x1="742.5" x2="1056.0" y1="298.72" y2="298.72" stroke="#b6b9b9" stroke-width="1.35"/>
<text x="730" y="302.5" text-anchor="end" font-family="Liberation Sans, sans-serif" font-size="11.8" fill="#222" stroke="#222" stroke-width="0.3" textLength="6.4" lengthAdjust="spacingAndGlyphs">9</text>
<line x1="742.5" x2="1056.0" y1="321.66" y2="321.66" stroke="#b6b9b9" stroke-width="1.35"/>
<text x="730" y="325.5" text-anchor="end" font-family="Liberation Sans, sans-serif" font-size="11.8" fill="#222" stroke="#222" stroke-width="0.3" textLength="12.8" lengthAdjust="spacingAndGlyphs">10</text>
<line x1="742.5" x2="1056.0" y1="344.60" y2="344.60" stroke="#b6b9b9" stroke-width="1.35"/>
<text x="730" y="348.4" text-anchor="end" font-family="Liberation Sans, sans-serif" font-size="11.8" fill="#222" stroke="#222" stroke-width="0.3" textLength="12.8" lengthAdjust="spacingAndGlyphs">11</text>
<line x1="742.5" x2="1056.0" y1="367.54" y2="367.54" stroke="#b6b9b9" stroke-width="1.35"/>
<text x="730" y="371.3" text-anchor="end" font-family="Liberation Sans, sans-serif" font-size="11.8" fill="#222" stroke="#222" stroke-width="0.3" textLength="12.8" lengthAdjust="spacingAndGlyphs">12</text>
<line x1="742.5" x2="1056.0" y1="390.48" y2="390.48" stroke="#b6b9b9" stroke-width="1.35"/>
<text x="730" y="394.3" text-anchor="end" font-family="Liberation Sans, sans-serif" font-size="11.8" fill="#222" stroke="#222" stroke-width="0.3" textLength="12.8" lengthAdjust="spacingAndGlyphs">13</text>
<line x1="742.5" x2="1056.0" y1="413.42" y2="413.42" stroke="#b6b9b9" stroke-width="1.35"/>
<text x="730" y="417.2" text-anchor="end" font-family="Liberation Sans, sans-serif" font-size="11.8" fill="#222" stroke="#222" stroke-width="0.3" textLength="12.8" lengthAdjust="spacingAndGlyphs">14</text>
<line x1="742.5" x2="1056.0" y1="436.36" y2="436.36" stroke="#b6b9b9" stroke-width="1.35"/>
<text x="730" y="440.2" text-anchor="end" font-family="Liberation Sans, sans-serif" font-size="11.8" fill="#222" stroke="#222" stroke-width="0.3" textLength="12.8" lengthAdjust="spacingAndGlyphs">15</text>
<text transform="translate(750.6,107.5) rotate(-90)" font-family="Liberation Sans, sans-serif" font-weight="bold" font-size="10.7" fill="#222" textLength="24.6" lengthAdjust="spacingAndGlyphs">1982</text>
<text transform="translate(766.7,107.5) rotate(-90)" font-family="Liberation Sans, sans-serif" font-weight="bold" font-size="10.7" fill="#222" textLength="24.6" lengthAdjust="spacingAndGlyphs">1984</text>
<text transform="translate(782.8,107.5) rotate(-90)" font-family="Liberation Sans, sans-serif" font-weight="bold" font-size="10.7" fill="#222" textLength="24.6" lengthAdjust="spacingAndGlyphs">1986</text>
<text transform="translate(798.9,107.5) rotate(-90)" font-family="Liberation Sans, sans-serif" font-weight="bold" font-size="10.7" fill="#222" textLength="24.6" lengthAdjust="spacingAndGlyphs">1988</text>
<text transform="translate(815.0,107.5) rotate(-90)" font-family="Liberation Sans, sans-serif" font-weight="bold" font-size="10.7" fill="#222" textLength="24.6" lengthAdjust="spacingAndGlyphs">1990</text>
<text transform="translate(831.1,107.5) rotate(-90)" font-family="Liberation Sans, sans-serif" font-weight="bold" font-size="10.7" fill="#222" textLength="24.6" lengthAdjust="spacingAndGlyphs">1992</text>
<text transform="translate(847.2,107.5) rotate(-90)" font-family="Liberation Sans, sans-serif" font-weight="bold" font-size="10.7" fill="#222" textLength="24.6" lengthAdjust="spacingAndGlyphs">1994</text>
<text transform="translate(863.3,107.5) rotate(-90)" font-family="Liberation Sans, sans-serif" font-weight="bold" font-size="10.7" fill="#222" textLength="24.6" lengthAdjust="spacingAndGlyphs">1996</text>
<text transform="translate(879.4,107.5) rotate(-90)" font-family="Liberation Sans, sans-serif" font-weight="bold" font-size="10.7" fill="#222" textLength="24.6" lengthAdjust="spacingAndGlyphs">1998</text>
<text transform="translate(895.5,107.5) rotate(-90)" font-family="Liberation Sans, sans-serif" font-weight="bold" font-size="10.7" fill="#222" textLength="24.6" lengthAdjust="spacingAndGlyphs">2000</text>
<text transform="translate(911.6,107.5) rotate(-90)" font-family="Liberation Sans, sans-serif" font-weight="bold" font-size="10.7" fill="#222" textLength="24.6" lengthAdjust="spacingAndGlyphs">2002</text>
<text transform="translate(927.7,107.5) rotate(-90)" font-family="Liberation Sans, sans-serif" font-weight="bold" font-size="10.7" fill="#222" textLength="24.6" lengthAdjust="spacingAndGlyphs">2004</text>
<text transform="translate(943.8,107.5) rotate(-90)" font-family="Liberation Sans, sans-serif" font-weight="bold" font-size="10.7" fill="#222" textLength="24.6" lengthAdjust="spacingAndGlyphs">2006</text>
<text transform="translate(959.9,107.5) rotate(-90)" font-family="Liberation Sans, sans-serif" font-weight="bold" font-size="10.7" fill="#222" textLength="24.6" lengthAdjust="spacingAndGlyphs">2008</text>
<text transform="translate(976.0,107.5) rotate(-90)" font-family="Liberation Sans, sans-serif" font-weight="bold" font-size="10.7" fill="#222" textLength="24.6" lengthAdjust="spacingAndGlyphs">2010</text>
<text transform="translate(992.1,107.5) rotate(-90)" font-family="Liberation Sans, sans-serif" font-weight="bold" font-size="10.7" fill="#222" textLength="24.6" lengthAdjust="spacingAndGlyphs">2012</text>
<text transform="translate(1008.2,107.5) rotate(-90)" font-family="Liberation Sans, sans-serif" font-weight="bold" font-size="10.7" fill="#222" textLength="24.6" lengthAdjust="spacingAndGlyphs">2014</text>
<text transform="translate(1024.3,107.5) rotate(-90)" font-family="Liberation Sans, sans-serif" font-weight="bold" font-size="10.7" fill="#222" textLength="24.6" lengthAdjust="spacingAndGlyphs">2016</text>
<text transform="translate(1040.4,107.5) rotate(-90)" font-family="Liberation Sans, sans-serif" font-weight="bold" font-size="10.7" fill="#222" textLength="24.6" lengthAdjust="spacingAndGlyphs">2018</text>
<text transform="translate(1056.5,107.5) rotate(-90)" font-family="Liberation Sans, sans-serif" font-weight="bold" font-size="10.7" fill="#222" textLength="24.6" lengthAdjust="spacingAndGlyphs">2020</text>
<clipPath id="cp2"><rect x="739.5" y="109.2" width="319.5" height="328.0"/></clipPath>
<g>
<path d="M746.10 206.96L754.15 206.96L762.20 206.96L770.25 184.02L778.30 206.96L786.35 184.02L794.40 206.96L802.45 184.02L810.50 184.02L818.55 184.02L826.60 184.02L834.65 184.02L842.70 184.02L850.75 184.02L858.80 184.02L866.85 184.02L874.90 184.02L882.95 184.02L891.00 184.02L899.05 184.02L907.10 184.02L915.15 184.02L923.20 184.02L931.25 184.02L939.30 252.84L947.35 252.84L955.40 252.84L963.45 252.84L971.50 252.84L979.55 275.78L987.60 275.78L995.65 275.78L1003.70 298.72L1011.75 298.72L1019.80 298.72L1027.85 298.72L1035.90 298.72L1043.95 321.66L1052.00 367.54" fill="none" stroke="#ea1018" stroke-width="2.6" stroke-linejoin="round" stroke-linecap="round" clip-path="url(#cp2)"/>
<circle cx="746.10" cy="206.96" r="3.10" fill="#ea1018"/>
<circle cx="754.15" cy="206.96" r="3.10" fill="#ea1018"/>
<circle cx="762.20" cy="206.96" r="3.10" fill="#ea1018"/>
<circle cx="770.25" cy="184.02" r="3.10" fill="#ea1018"/>
<circle cx="778.30" cy="206.96" r="3.10" fill="#ea1018"/>
<circle cx="786.35" cy="184.02" r="3.10" fill="#ea1018"/>
<circle cx="794.40" cy="206.96" r="3.10" fill="#ea1018"/>
<circle cx="802.45" cy="184.02" r="3.10" fill="#ea1018"/>
<circle cx="810.50" cy="184.02" r="3.10" fill="#ea1018"/>
<circle cx="818.55" cy="184.02" r="3.10" fill="#ea1018"/>
<circle cx="826.60" cy="184.02" r="3.10" fill="#ea1018"/>
<circle cx="834.65" cy="184.02" r="3.10" fill="#ea1018"/>
<circle cx="842.70" cy="184.02" r="3.10" fill="#ea1018"/>
<circle cx="850.75" cy="184.02" r="3.10" fill="#ea1018"/>
<circle cx="858.80" cy="184.02" r="3.10" fill="#ea1018"/>
<circle cx="866.85" cy="184.02" r="3.10" fill="#ea1018"/>
<circle cx="874.90" cy="184.02" r="3.10" fill="#ea1018"/>
<circle cx="882.95" cy="184.02" r="3.10" fill="#ea1018"/>
<circle cx="891.00" cy="184.02" r="3.10" fill="#ea1018"/>
<circle cx="899.05" cy="184.02" r="3.10" fill="#ea1018"/>
<circle cx="907.10" cy="184.02" r="3.10" fill="#ea1018"/>
<circle cx="915.15" cy="184.02" r="3.10" fill="#ea1018"/>
<circle cx="923.20" cy="184.02" r="3.10" fill="#ea1018"/>
<circle cx="931.25" cy="184.02" r="3.10" fill="#ea1018"/>
<circle cx="939.30" cy="252.84" r="3.10" fill="#ea1018"/>
<circle cx="947.35" cy="252.84" r="3.10" fill="#ea1018"/>
<circle cx="955.40" cy="252.84" r="3.10" fill="#ea1018"/>
<circle cx="963.45" cy="252.84" r="3.10" fill="#ea1018"/>
<circle cx="971.50" cy="252.84" r="3.10" fill="#ea1018"/>
<circle cx="979.55" cy="275.78" r="3.10" fill="#ea1018"/>
<circle cx="987.60" cy="275.78" r="3.10" fill="#ea1018"/>
<circle cx="995.65" cy="275.78" r="3.10" fill="#ea1018"/>
<circle cx="1003.70" cy="298.72" r="3.10" fill="#ea1018"/>
<circle cx="1011.75" cy="298.72" r="3.10" fill="#ea1018"/>
<circle cx="1019.80" cy="298.72" r="3.10" fill="#ea1018"/>
<circle cx="1027.85" cy="298.72" r="3.10" fill="#ea1018"/>
<circle cx="1035.90" cy="298.72" r="3.10" fill="#ea1018"/>
<circle cx="1043.95" cy="321.66" r="3.10" fill="#ea1018"/>
<circle cx="1052.00" cy="367.54" r="3.10" fill="#ea1018"/>
<path d="M746.10 115.20L754.15 115.20L762.20 115.20L770.25 115.20L778.30 115.20L786.35 115.20L794.40 115.20L802.45 115.20L810.50 115.20L818.55 115.20L826.60 115.20L834.65 115.20L842.70 115.20L850.75 115.20L858.80 115.20L866.85 115.20L874.90 115.20L882.95 115.20L891.00 115.20L899.05 115.20L907.10 115.20L915.15 115.20L923.20 115.20L931.25 115.20L939.30 115.20L947.35 115.20L955.40 115.20L963.45 115.20L971.50 115.20L979.55 115.20L987.60 115.20L995.65 115.20L1003.70 115.20L1011.75 115.20L1019.80 115.20L1027.85 115.20L1035.90 115.20L1043.95 138.14L1052.00 138.14" fill="none" stroke="#e1782f" stroke-width="2.6" stroke-linejoin="round" stroke-linecap="round" clip-path="url(#cp2)"/>
<path d="M742.70 115.20L746.10 111.80L749.50 115.20L746.10 118.60Z" fill="#e1782f"/>
<path d="M750.75 115.20L754.15 111.80L757.55 115.20L754.15 118.60Z" fill="#e1782f"/>
<path d="M758.80 115.20L762.20 111.80L765.60 115.20L762.20 118.60Z" fill="#e1782f"/>
<path d="M766.85 115.20L770.25 111.80L773.65 115.20L770.25 118.60Z" fill="#e1782f"/>
<path d="M774.90 115.20L778.30 111.80L781.70 115.20L778.30 118.60Z" fill="#e1782f"/>
<path d="M782.95 115.20L786.35 111.80L789.75 115.20L786.35 118.60Z" fill="#e1782f"/>
<path d="M791.00 115.20L794.40 111.80L797.80 115.20L794.40 118.60Z" fill="#e1782f"/>
<path d="M799.05 115.20L802.45 111.80L805.85 115.20L802.45 118.60Z" fill="#e1782f"/>
<path d="M807.10 115.20L810.50 111.80L813.90 115.20L810.50 118.60Z" fill="#e1782f"/>
<path d="M815.15 115.20L818.55 111.80L821.95 115.20L818.55 118.60Z" fill="#e1782f"/>
<path d="M823.20 115.20L826.60 111.80L830.00 115.20L826.60 118.60Z" fill="#e1782f"/>
<path d="M831.25 115.20L834.65 111.80L838.05 115.20L834.65 118.60Z" fill="#e1782f"/>
<path d="M839.30 115.20L842.70 111.80L846.10 115.20L842.70 118.60Z" fill="#e1782f"/>
<path d="M847.35 115.20L850.75 111.80L854.15 115.20L850.75 118.60Z" fill="#e1782f"/>
<path d="M855.40 115.20L858.80 111.80L862.20 115.20L858.80 118.60Z" fill="#e1782f"/>
<path d="M863.45 115.20L866.85 111.80L870.25 115.20L866.85 118.60Z" fill="#e1782f"/>
<path d="M871.50 115.20L874.90 111.80L878.30 115.20L874.90 118.60Z" fill="#e1782f"/>
<path d="M879.55 115.20L882.95 111.80L886.35 115.20L882.95 118.60Z" fill="#e1782f"/>
<path d="M887.60 115.20L891.00 111.80L894.40 115.20L891.00 118.60Z" fill="#e1782f"/>
<path d="M895.65 115.20L899.05 111.80L902.45 115.20L899.05 118.60Z" fill="#e1782f"/>
<path d="M903.70 115.20L907.10 111.80L910.50 115.20L907.10 118.60Z" fill="#e1782f"/>
<path d="M911.75 115.20L915.15 111.80L918.55 115.20L915.15 118.60Z" fill="#e1782f"/>
<path d="M919.80 115.20L923.20 111.80L926.60 115.20L923.20 118.60Z" fill="#e1782f"/>
<path d="M927.85 115.20L931.25 111.80L934.65 115.20L931.25 118.60Z" fill="#e1782f"/>
<path d="M935.90 115.20L939.30 111.80L942.70 115.20L939.30 118.60Z" fill="#e1782f"/>
<path d="M943.95 115.20L947.35 111.80L950.75 115.20L947.35 118.60Z" fill="#e1782f"/>
<path d="M952.00 115.20L955.40 111.80L958.80 115.20L955.40 118.60Z" fill="#e1782f"/>
<path d="M960.05 115.20L963.45 111.80L966.85 115.20L963.45 118.60Z" fill="#e1782f"/>
<path d="M968.10 115.20L971.50 111.80L974.90 115.20L971.50 118.60Z" fill="#e1782f"/>
<path d="M976.15 115.20L979.55 111.80L982.95 115.20L979.55 118.60Z" fill="#e1782f"/>
<path d="M984.20 115.20L987.60 111.80L991.00 115.20L987.60 118.60Z" fill="#e1782f"/>
<path d="M992.25 115.20L995.65 111.80L999.05 115.20L995.65 118.60Z" fill="#e1782f"/>
<path d="M1000.30 115.20L1003.70 111.80L1007.10 115.20L1003.70 118.60Z" fill="#e1782f"/>
<path d="M1008.35 115.20L1011.75 111.80L1015.15 115.20L1011.75 118.60Z" fill="#e1782f"/>
<path d="M1016.40 115.20L1019.80 111.80L1023.20 115.20L1019.80 118.60Z" fill="#e1782f"/>
<path d="M1024.45 115.20L1027.85 111.80L1031.25 115.20L1027.85 118.60Z" fill="#e1782f"/>
<path d="M1032.50 115.20L1035.90 111.80L1039.30 115.20L1035.90 118.60Z" fill="#e1782f"/>
<path d="M1040.55 138.14L1043.95 134.74L1047.35 138.14L1043.95 141.54Z" fill="#e1782f"/>
<path d="M1048.60 138.14L1052.00 134.74L1055.40 138.14L1052.00 141.54Z" fill="#e1782f"/>
<path d="M746.10 161.08L754.15 161.08L762.20 161.08L770.25 161.08L778.30 161.08L786.35 161.08L794.40 161.08L802.45 161.08L810.50 161.08L818.55 161.08L826.60 161.08L834.65 161.08L842.70 161.08L850.75 161.08L858.80 161.08L866.85 161.08L874.90 161.08L882.95 161.08L891.00 161.08L899.05 161.08L907.10 161.08L915.15 161.08L923.20 161.08L931.25 161.08L939.30 161.08L947.35 161.08L955.40 161.08L963.45 184.02L971.50 184.02L979.55 184.02L987.60 184.02L995.65 184.02L1003.70 184.02L1011.75 184.02L1019.80 184.02L1027.85 184.02L1035.90 184.02L1043.95 184.02L1052.00 184.02" fill="none" stroke="#a3a3a3" stroke-width="2.6" stroke-linejoin="round" stroke-linecap="round" clip-path="url(#cp2)"/>
<path d="M742.70 161.08L746.10 157.68L749.50 161.08L746.10 164.48Z" fill="#a3a3a3"/>
<path d="M750.75 161.08L754.15 157.68L757.55 161.08L754.15 164.48Z" fill="#a3a3a3"/>
<path d="M758.80 161.08L762.20 157.68L765.60 161.08L762.20 164.48Z" fill="#a3a3a3"/>
<path d="M766.85 161.08L770.25 157.68L773.65 161.08L770.25 164.48Z" fill="#a3a3a3"/>
<path d="M774.90 161.08L778.30 157.68L781.70 161.08L778.30 164.48Z" fill="#a3a3a3"/>
<path d="M782.95 161.08L786.35 157.68L789.75 161.08L786.35 164.48Z" fill="#a3a3a3"/>
<path d="M791.00 161.08L794.40 157.68L797.80 161.08L794.40 164.48Z" fill="#a3a3a3"/>
<path d="M799.05 161.08L802.45 157.68L805.85 161.08L802.45 164.48Z" fill="#a3a3a3"/>
<path d="M807.10 161.08L810.50 157.68L813.90 161.08L810.50 164.48Z" fill="#a3a3a3"/>
<path d="M815.15 161.08L818.55 157.68L821.95 161.08L818.55 164.48Z" fill="#a3a3a3"/>
<path d="M823.20 161.08L826.60 157.68L830.00 161.08L826.60 164.48Z" fill="#a3a3a3"/>
<path d="M831.25 161.08L834.65 157.68L838.05 161.08L834.65 164.48Z" fill="#a3a3a3"/>
<path d="M839.30 161.08L842.70 157.68L846.10 161.08L842.70 164.48Z" fill="#a3a3a3"/>
<path d="M847.35 161.08L850.75 157.68L854.15 161.08L850.75 164.48Z" fill="#a3a3a3"/>
<path d="M855.40 161.08L858.80 157.68L862.20 161.08L858.80 164.48Z" fill="#a3a3a3"/>
<path d="M863.45 161.08L866.85 157.68L870.25 161.08L866.85 164.48Z" fill="#a3a3a3"/>
<path d="M871.50 161.08L874.90 157.68L878.30 161.08L874.90 164.48Z" fill="#a3a3a3"/>
<path d="M879.55 161.08L882.95 157.68L886.35 161.08L882.95 164.48Z" fill="#a3a3a3"/>
<path d="M887.60 161.08L891.00 157.68L894.40 161.08L891.00 164.48Z" fill="#a3a3a3"/>
<path d="M895.65 161.08L899.05 157.68L902.45 161.08L899.05 164.48Z" fill="#a3a3a3"/>
<path d="M903.70 161.08L907.10 157.68L910.50 161.08L907.10 164.48Z" fill="#a3a3a3"/>
<path d="M911.75 161.08L915.15 157.68L918.55 161.08L915.15 164.48Z" fill="#a3a3a3"/>
<path d="M919.80 161.08L923.20 157.68L926.60 161.08L923.20 164.48Z" fill="#a3a3a3"/>
<path d="M927.85 161.08L931.25 157.68L934.65 161.08L931.25 164.48Z" fill="#a3a3a3"/>
<path d="M935.90 161.08L939.30 157.68L942.70 161.08L939.30 164.48Z" fill="#a3a3a3"/>
<path d="M943.95 161.08L947.35 157.68L950.75 161.08L947.35 164.48Z" fill="#a3a3a3"/>
<path d="M952.00 161.08L955.40 157.68L958.80 161.08L955.40 164.48Z" fill="#a3a3a3"/>
<path d="M960.05 184.02L963.45 180.62L966.85 184.02L963.45 187.42Z" fill="#a3a3a3"/>
<path d="M968.10 184.02L971.50 180.62L974.90 184.02L971.50 187.42Z" fill="#a3a3a3"/>
<path d="M976.15 184.02L979.55 180.62L982.95 184.02L979.55 187.42Z" fill="#a3a3a3"/>
<path d="M984.20 184.02L987.60 180.62L991.00 184.02L987.60 187.42Z" fill="#a3a3a3"/>
<path d="M992.25 184.02L995.65 180.62L999.05 184.02L995.65 187.42Z" fill="#a3a3a3"/>
<path d="M1000.30 184.02L1003.70 180.62L1007.10 184.02L1003.70 187.42Z" fill="#a3a3a3"/>
<path d="M1008.35 184.02L1011.75 180.62L1015.15 184.02L1011.75 187.42Z" fill="#a3a3a3"/>
<path d="M1016.40 184.02L1019.80 180.62L1023.20 184.02L1019.80 187.42Z" fill="#a3a3a3"/>
<path d="M1024.45 184.02L1027.85 180.62L1031.25 184.02L1027.85 187.42Z" fill="#a3a3a3"/>
<path d="M1032.50 184.02L1035.90 180.62L1039.30 184.02L1035.90 187.42Z" fill="#a3a3a3"/>
<path d="M1040.55 184.02L1043.95 180.62L1047.35 184.02L1043.95 187.42Z" fill="#a3a3a3"/>
<path d="M1048.60 184.02L1052.00 180.62L1055.40 184.02L1052.00 187.42Z" fill="#a3a3a3"/>
<path d="M746.10 229.90L754.15 229.90L762.20 229.90L770.25 229.90L778.30 229.90L786.35 229.90L794.40 229.90L802.45 229.90L810.50 229.90L818.55 229.90L826.60 229.90L834.65 229.90L842.70 229.90L850.75 229.90L858.80 206.96L866.85 206.96L874.90 206.96L882.95 206.96L891.00 206.96L899.05 206.96L907.10 206.96L915.15 206.96L923.20 206.96L931.25 206.96L939.30 206.96L947.35 229.90L955.40 229.90L963.45 206.96L971.50 229.90L979.55 229.90L987.60 229.90L995.65 206.96L1003.70 206.96L1011.75 229.90L1019.80 252.84L1027.85 252.84L1035.90 252.84L1043.95 275.78L1052.00 298.72" fill="none" stroke="#f5b51a" stroke-width="2.6" stroke-linejoin="round" stroke-linecap="round" clip-path="url(#cp2)"/>
<circle cx="746.10" cy="229.90" r="3.10" fill="#f5b51a"/>
<circle cx="754.15" cy="229.90" r="3.10" fill="#f5b51a"/>
<circle cx="762.20" cy="229.90" r="3.10" fill="#f5b51a"/>
<circle cx="770.25" cy="229.90" r="3.10" fill="#f5b51a"/>
<circle cx="778.30" cy="229.90" r="3.10" fill="#f5b51a"/>
<circle cx="786.35" cy="229.90" r="3.10" fill="#f5b51a"/>
<circle cx="794.40" cy="229.90" r="3.10" fill="#f5b51a"/>
<circle cx="802.45" cy="229.90" r="3.10" fill="#f5b51a"/>
<circle cx="810.50" cy="229.90" r="3.10" fill="#f5b51a"/>
<circle cx="818.55" cy="229.90" r="3.10" fill="#f5b51a"/>
<circle cx="826.60" cy="229.90" r="3.10" fill="#f5b51a"/>
<circle cx="834.65" cy="229.90" r="3.10" fill="#f5b51a"/>
<circle cx="842.70" cy="229.90" r="3.10" fill="#f5b51a"/>
<circle cx="850.75" cy="229.90" r="3.10" fill="#f5b51a"/>
<circle cx="858.80" cy="206.96" r="3.10" fill="#f5b51a"/>
<circle cx="866.85" cy="206.96" r="3.10" fill="#f5b51a"/>
<circle cx="874.90" cy="206.96" r="3.10" fill="#f5b51a"/>
<circle cx="882.95" cy="206.96" r="3.10" fill="#f5b51a"/>
<circle cx="891.00" cy="206.96" r="3.10" fill="#f5b51a"/>
<circle cx="899.05" cy="206.96" r="3.10" fill="#f5b51a"/>
<circle cx="907.10" cy="206.96" r="3.10" fill="#f5b51a"/>
<circle cx="915.15" cy="206.96" r="3.10" fill="#f5b51a"/>
<circle cx="923.20" cy="206.96" r="3.10" fill="#f5b51a"/>
<circle cx="931.25" cy="206.96" r="3.10" fill="#f5b51a"/>
<circle cx="939.30" cy="206.96" r="3.10" fill="#f5b51a"/>
<circle cx="947.35" cy="229.90" r="3.10" fill="#f5b51a"/>
<circle cx="955.40" cy="229.90" r="3.10" fill="#f5b51a"/>
<circle cx="963.45" cy="206.96" r="3.10" fill="#f5b51a"/>
<circle cx="971.50" cy="229.90" r="3.10" fill="#f5b51a"/>
<circle cx="979.55" cy="229.90" r="3.10" fill="#f5b51a"/>
<circle cx="987.60" cy="229.90" r="3.10" fill="#f5b51a"/>
<circle cx="995.65" cy="206.96" r="3.10" fill="#f5b51a"/>
<circle cx="1003.70" cy="206.96" r="3.10" fill="#f5b51a"/>
<circle cx="1011.75" cy="229.90" r="3.10" fill="#f5b51a"/>
<circle cx="1019.80" cy="252.84" r="3.10" fill="#f5b51a"/>
<circle cx="1027.85" cy="252.84" r="3.10" fill="#f5b51a"/>
<circle cx="1035.90" cy="252.84" r="3.10" fill="#f5b51a"/>
<circle cx="1043.95" cy="275.78" r="3.10" fill="#f5b51a"/>
<circle cx="1052.00" cy="298.72" r="3.10" fill="#f5b51a"/>
<path d="M746.10 138.14L754.15 138.14L762.20 138.14L770.25 138.14L778.30 138.14L786.35 138.14L794.40 138.14L802.45 138.14L810.50 138.14L818.55 138.14L826.60 138.14L834.65 138.14L842.70 138.14L850.75 138.14L858.80 138.14L866.85 138.14L874.90 138.14L882.95 138.14L891.00 138.14L899.05 138.14L907.10 138.14L915.15 138.14L923.20 138.14L931.25 138.14L939.30 138.14L947.35 138.14L955.40 138.14L963.45 138.14L971.50 161.08L979.55 161.08L987.60 161.08L995.65 161.08L1003.70 161.08L1011.75 161.08L1019.80 161.08L1027.85 161.08L1035.90 161.08L1043.95 161.08L1052.00 161.08" fill="none" stroke="#4e8fcb" stroke-width="2.6" stroke-linejoin="round" stroke-linecap="round" clip-path="url(#cp2)"/>
<path d="M743.10 140.94L746.10 135.14L749.10 140.94Z" fill="#4e8fcb"/>
<path d="M751.15 140.94L754.15 135.14L757.15 140.94Z" fill="#4e8fcb"/>
<path d="M759.20 140.94L762.20 135.14L765.20 140.94Z" fill="#4e8fcb"/>
<path d="M767.25 140.94L770.25 135.14L773.25 140.94Z" fill="#4e8fcb"/>
<path d="M775.30 140.94L778.30 135.14L781.30 140.94Z" fill="#4e8fcb"/>
<path d="M783.35 140.94L786.35 135.14L789.35 140.94Z" fill="#4e8fcb"/>
<path d="M791.40 140.94L794.40 135.14L797.40 140.94Z" fill="#4e8fcb"/>
<path d="M799.45 140.94L802.45 135.14L805.45 140.94Z" fill="#4e8fcb"/>
<path d="M807.50 140.94L810.50 135.14L813.50 140.94Z" fill="#4e8fcb"/>
<path d="M815.55 140.94L818.55 135.14L821.55 140.94Z" fill="#4e8fcb"/>
<path d="M823.60 140.94L826.60 135.14L829.60 140.94Z" fill="#4e8fcb"/>
<path d="M831.65 140.94L834.65 135.14L837.65 140.94Z" fill="#4e8fcb"/>
<path d="M839.70 140.94L842.70 135.14L845.70 140.94Z" fill="#4e8fcb"/>
<path d="M847.75 140.94L850.75 135.14L853.75 140.94Z" fill="#4e8fcb"/>
<path d="M855.80 140.94L858.80 135.14L861.80 140.94Z" fill="#4e8fcb"/>
<path d="M863.85 140.94L866.85 135.14L869.85 140.94Z" fill="#4e8fcb"/>
<path d="M871.90 140.94L874.90 135.14L877.90 140.94Z" fill="#4e8fcb"/>
<path d="M879.95 140.94L882.95 135.14L885.95 140.94Z" fill="#4e8fcb"/>
<path d="M888.00 140.94L891.00 135.14L894.00 140.94Z" fill="#4e8fcb"/>
<path d="M896.05 140.94L899.05 135.14L902.05 140.94Z" fill="#4e8fcb"/>
<path d="M904.10 140.94L907.10 135.14L910.10 140.94Z" fill="#4e8fcb"/>
<path d="M912.15 140.94L915.15 135.14L918.15 140.94Z" fill="#4e8fcb"/>
<path d="M920.20 140.94L923.20 135.14L926.20 140.94Z" fill="#4e8fcb"/>
<path d="M928.25 140.94L931.25 135.14L934.25 140.94Z" fill="#4e8fcb"/>
<path d="M936.30 140.94L939.30 135.14L942.30 140.94Z" fill="#4e8fcb"/>
<path d="M944.35 140.94L947.35 135.14L950.35 140.94Z" fill="#4e8fcb"/>
<path d="M952.40 140.94L955.40 135.14L958.40 140.94Z" fill="#4e8fcb"/>
<path d="M960.45 140.94L963.45 135.14L966.45 140.94Z" fill="#4e8fcb"/>
<path d="M968.50 163.88L971.50 158.08L974.50 163.88Z" fill="#4e8fcb"/>
<path d="M976.55 163.88L979.55 158.08L982.55 163.88Z" fill="#4e8fcb"/>
<path d="M984.60 163.88L987.60 158.08L990.60 163.88Z" fill="#4e8fcb"/>
<path d="M992.65 163.88L995.65 158.08L998.65 163.88Z" fill="#4e8fcb"/>
<path d="M1000.70 163.88L1003.70 158.08L1006.70 163.88Z" fill="#4e8fcb"/>
<path d="M1008.75 163.88L1011.75 158.08L1014.75 163.88Z" fill="#4e8fcb"/>
<path d="M1016.80 163.88L1019.80 158.08L1022.80 163.88Z" fill="#4e8fcb"/>
<path d="M1024.85 163.88L1027.85 158.08L1030.85 163.88Z" fill="#4e8fcb"/>
<path d="M1032.90 163.88L1035.90 158.08L1038.90 163.88Z" fill="#4e8fcb"/>
<path d="M1040.95 163.88L1043.95 158.08L1046.95 163.88Z" fill="#4e8fcb"/>
<path d="M1049.00 163.88L1052.00 158.08L1055.00 163.88Z" fill="#4e8fcb"/>
<path d="M866.85 436.36L874.90 390.48L882.95 390.48L891.00 390.48L899.05 344.60L907.10 298.72L915.15 252.84L923.20 252.84L931.25 229.90L939.30 184.02L947.35 184.02L955.40 184.02L963.45 161.08L971.50 138.14L979.55 138.14L987.60 138.14L995.65 138.14L1003.70 138.14L1011.75 138.14L1019.80 138.14L1027.85 138.14L1035.90 138.14L1043.95 115.20L1052.00 115.20" fill="none" stroke="#6aa83f" stroke-width="2.6" stroke-linejoin="round" stroke-linecap="round" clip-path="url(#cp2)"/>
<path d="M863.85 439.16L866.85 433.36L869.85 439.16Z" fill="#6aa83f"/>
<path d="M871.90 393.28L874.90 387.48L877.90 393.28Z" fill="#6aa83f"/>
<path d="M879.95 393.28L882.95 387.48L885.95 393.28Z" fill="#6aa83f"/>
<path d="M888.00 393.28L891.00 387.48L894.00 393.28Z" fill="#6aa83f"/>
<path d="M896.05 347.40L899.05 341.60L902.05 347.40Z" fill="#6aa83f"/>
<path d="M904.10 301.52L907.10 295.72L910.10 301.52Z" fill="#6aa83f"/>
<path d="M912.15 255.64L915.15 249.84L918.15 255.64Z" fill="#6aa83f"/>
<path d="M920.20 255.64L923.20 249.84L926.20 255.64Z" fill="#6aa83f"/>
<path d="M928.25 232.70L931.25 226.90L934.25 232.70Z" fill="#6aa83f"/>
<path d="M936.30 186.82L939.30 181.02L942.30 186.82Z" fill="#6aa83f"/>
<path d="M944.35 186.82L947.35 181.02L950.35 186.82Z" fill="#6aa83f"/>
<path d="M952.40 186.82L955.40 181.02L958.40 186.82Z" fill="#6aa83f"/>
<path d="M960.45 163.88L963.45 158.08L966.45 163.88Z" fill="#6aa83f"/>
<path d="M968.50 140.94L971.50 135.14L974.50 140.94Z" fill="#6aa83f"/>
<path d="M976.55 140.94L979.55 135.14L982.55 140.94Z" fill="#6aa83f"/>
<path d="M984.60 140.94L987.60 135.14L990.60 140.94Z" fill="#6aa83f"/>
<path d="M992.65 140.94L995.65 135.14L998.65 140.94Z" fill="#6aa83f"/>
<path d="M1000.70 140.94L1003.70 135.14L1006.70 140.94Z" fill="#6aa83f"/>
<path d="M1008.75 140.94L1011.75 135.14L1014.75 140.94Z" fill="#6aa83f"/>
<path d="M1016.80 140.94L1019.80 135.14L1022.80 140.94Z" fill="#6aa83f"/>
<path d="M1024.85 140.94L1027.85 135.14L1030.85 140.94Z" fill="#6aa83f"/>
<path d="M1032.90 140.94L1035.90 135.14L1038.90 140.94Z" fill="#6aa83f"/>
<path d="M1040.95 118.00L1043.95 112.20L1046.95 118.00Z" fill="#6aa83f"/>
<path d="M1049.00 118.00L1052.00 112.20L1055.00 118.00Z" fill="#6aa83f"/>
<path d="M915.15 459.30L923.20 413.42L931.25 413.42L939.30 436.36L947.35 436.36L955.40 413.42L963.45 413.42L971.50 390.48L979.55 390.48L987.60 390.48L995.65 390.48L1003.70 390.48L1011.75 390.48L1019.80 390.48L1027.85 367.54L1035.90 367.54L1043.95 367.54L1052.00 344.60" fill="none" stroke="#1d3a6e" stroke-width="2.6" stroke-linejoin="round" stroke-linecap="round" clip-path="url(#cp2)"/>
<path d="M920.20 416.22L923.20 410.42L926.20 416.22Z" fill="#1d3a6e"/>
<path d="M928.25 416.22L931.25 410.42L934.25 416.22Z" fill="#1d3a6e"/>
<path d="M936.30 439.16L939.30 433.36L942.30 439.16Z" fill="#1d3a6e"/>
<path d="M944.35 439.16L947.35 433.36L950.35 439.16Z" fill="#1d3a6e"/>
<path d="M952.40 416.22L955.40 410.42L958.40 416.22Z" fill="#1d3a6e"/>
<path d="M960.45 416.22L963.45 410.42L966.45 416.22Z" fill="#1d3a6e"/>
<path d="M968.50 393.28L971.50 387.48L974.50 393.28Z" fill="#1d3a6e"/>
<path d="M976.55 393.28L979.55 387.48L982.55 393.28Z" fill="#1d3a6e"/>
<path d="M984.60 393.28L987.60 387.48L990.60 393.28Z" fill="#1d3a6e"/>
<path d="M992.65 393.28L995.65 387.48L998.65 393.28Z" fill="#1d3a6e"/>
<path d="M1000.70 393.28L1003.70 387.48L1006.70 393.28Z" fill="#1d3a6e"/>
<path d="M1008.75 393.28L1011.75 387.48L1014.75 393.28Z" fill="#1d3a6e"/>
<path d="M1016.80 393.28L1019.80 387.48L1022.80 393.28Z" fill="#1d3a6e"/>
<path d="M1024.85 370.34L1027.85 364.54L1030.85 370.34Z" fill="#1d3a6e"/>
<path d="M1032.90 370.34L1035.90 364.54L1038.90 370.34Z" fill="#1d3a6e"/>
<path d="M1040.95 370.34L1043.95 364.54L1046.95 370.34Z" fill="#1d3a6e"/>
<path d="M1049.00 347.40L1052.00 341.60L1055.00 347.40Z" fill="#1d3a6e"/>
</g>
<text x="783.8" y="67.6" font-family="Liberation Sans, Noto Sans CJK JP, sans-serif" font-size="14.6" fill="#111" stroke="#111" stroke-width="0.08" textLength="32.6" lengthAdjust="spacingAndGlyphs">Top1</text>
<text x="817" y="68.3" font-family="Liberation Sans, Noto Sans CJK JP, sans-serif" font-size="15.2" fill="#404040">％補正論文数</text>
<text x="920.7" y="68.6" font-family="Liberation Sans, Noto Sans CJK JP, sans-serif" font-size="12" fill="#404040" text-anchor="end">（</text>
<text x="921.1" y="68.6" font-family="Liberation Sans, Noto Sans CJK JP, sans-serif" font-size="12" fill="#404040">分数カウント</text>
<text x="993.6" y="68.6" font-family="Liberation Sans, Noto Sans CJK JP, sans-serif" font-size="12" fill="#404040">）</text>
<rect x="754.4" y="367.8" width="68.1" height="21.8" fill="#fff" stroke="#9a9a9a" stroke-width="1"/>
<text x="788.4" y="383.4" text-anchor="middle" font-family="Liberation Serif, Noto Serif CJK SC, serif" font-size="13" fill="#333">全分野</text>
<line x1="741.4" x2="761.7" y1="457.8" y2="457.8" stroke="#ea1018" stroke-width="3.3" stroke-linecap="round"/>
<circle cx="751.50" cy="457.80" r="2.85" fill="#ea1018"/>
<text x="764.5" y="462.1" font-family="Liberation Serif, Noto Serif CJK SC, serif" font-size="11.7" fill="#444">日本</text>
<line x1="822.8" x2="843.1" y1="457.8" y2="457.8" stroke="#e1782f" stroke-width="3.3" stroke-linecap="round"/>
<path d="M829.77 457.80L832.90 454.67L836.03 457.80L832.90 460.93Z" fill="#e1782f"/>
<text x="845.9" y="462.1" font-family="Liberation Serif, Noto Serif CJK SC, serif" font-size="11.7" fill="#444">米国</text>
<line x1="904.2" x2="924.5" y1="457.8" y2="457.8" stroke="#a3a3a3" stroke-width="3.3" stroke-linecap="round"/>
<path d="M911.17 457.80L914.30 454.67L917.43 457.80L914.30 460.93Z" fill="#a3a3a3"/>
<text x="927.3" y="462.1" font-family="Liberation Sans, Noto Sans CJK JP, sans-serif" font-size="11.7" fill="#444">ドイツ</text>
<line x1="985.6" x2="1005.9" y1="457.8" y2="457.8" stroke="#f5b51a" stroke-width="3.3" stroke-linecap="round"/>
<circle cx="995.70" cy="457.80" r="2.85" fill="#f5b51a"/>
<text x="1008.7" y="462.1" font-family="Liberation Sans, Noto Sans CJK JP, sans-serif" font-size="11.7" fill="#444">フランス</text>
<line x1="741.4" x2="761.7" y1="478.7" y2="478.7" stroke="#4e8fcb" stroke-width="3.3" stroke-linecap="round"/>
<path d="M748.50 481.50L751.50 475.70L754.50 481.50Z" fill="#4e8fcb"/>
<text x="764.5" y="483.0" font-family="Liberation Serif, Noto Serif CJK SC, serif" font-size="11.7" fill="#444">英国</text>
<line x1="822.8" x2="843.1" y1="478.7" y2="478.7" stroke="#6aa83f" stroke-width="3.3" stroke-linecap="round"/>
<path d="M829.90 481.50L832.90 475.70L835.90 481.50Z" fill="#6aa83f"/>
<text x="845.9" y="483.0" font-family="Liberation Serif, Noto Serif CJK SC, serif" font-size="11.7" fill="#444">中国</text>
<line x1="904.2" x2="924.5" y1="478.7" y2="478.7" stroke="#1d3a6e" stroke-width="3.3" stroke-linecap="round"/>
<path d="M911.30 481.50L914.30 475.70L917.30 481.50Z" fill="#1d3a6e"/>
<text x="927.3" y="483.0" font-family="Liberation Serif, Noto Serif CJK SC, serif" font-size="11.7" fill="#444">韓国</text>
<text x="5.6" y="525.3" font-family="Liberation Serif, Noto Serif CJK SC, serif" font-size="19.4" fill="#111" textLength="956.4" lengthAdjust="spacing">出典：文部科学省　科学技術・学術政策研究所 科学研究のベンチマーキング2023調査資料－329（2023年８月）</text>
<text x="965.5" y="518" font-family="Liberation Serif, Noto Serif CJK SC, serif" font-size="11.5" fill="#333">4）</text>
<line x1="486.9" x2="486.9" y1="446.8" y2="465.4" stroke="#444" stroke-width="1.2"/>
</svg>
</body></html>
